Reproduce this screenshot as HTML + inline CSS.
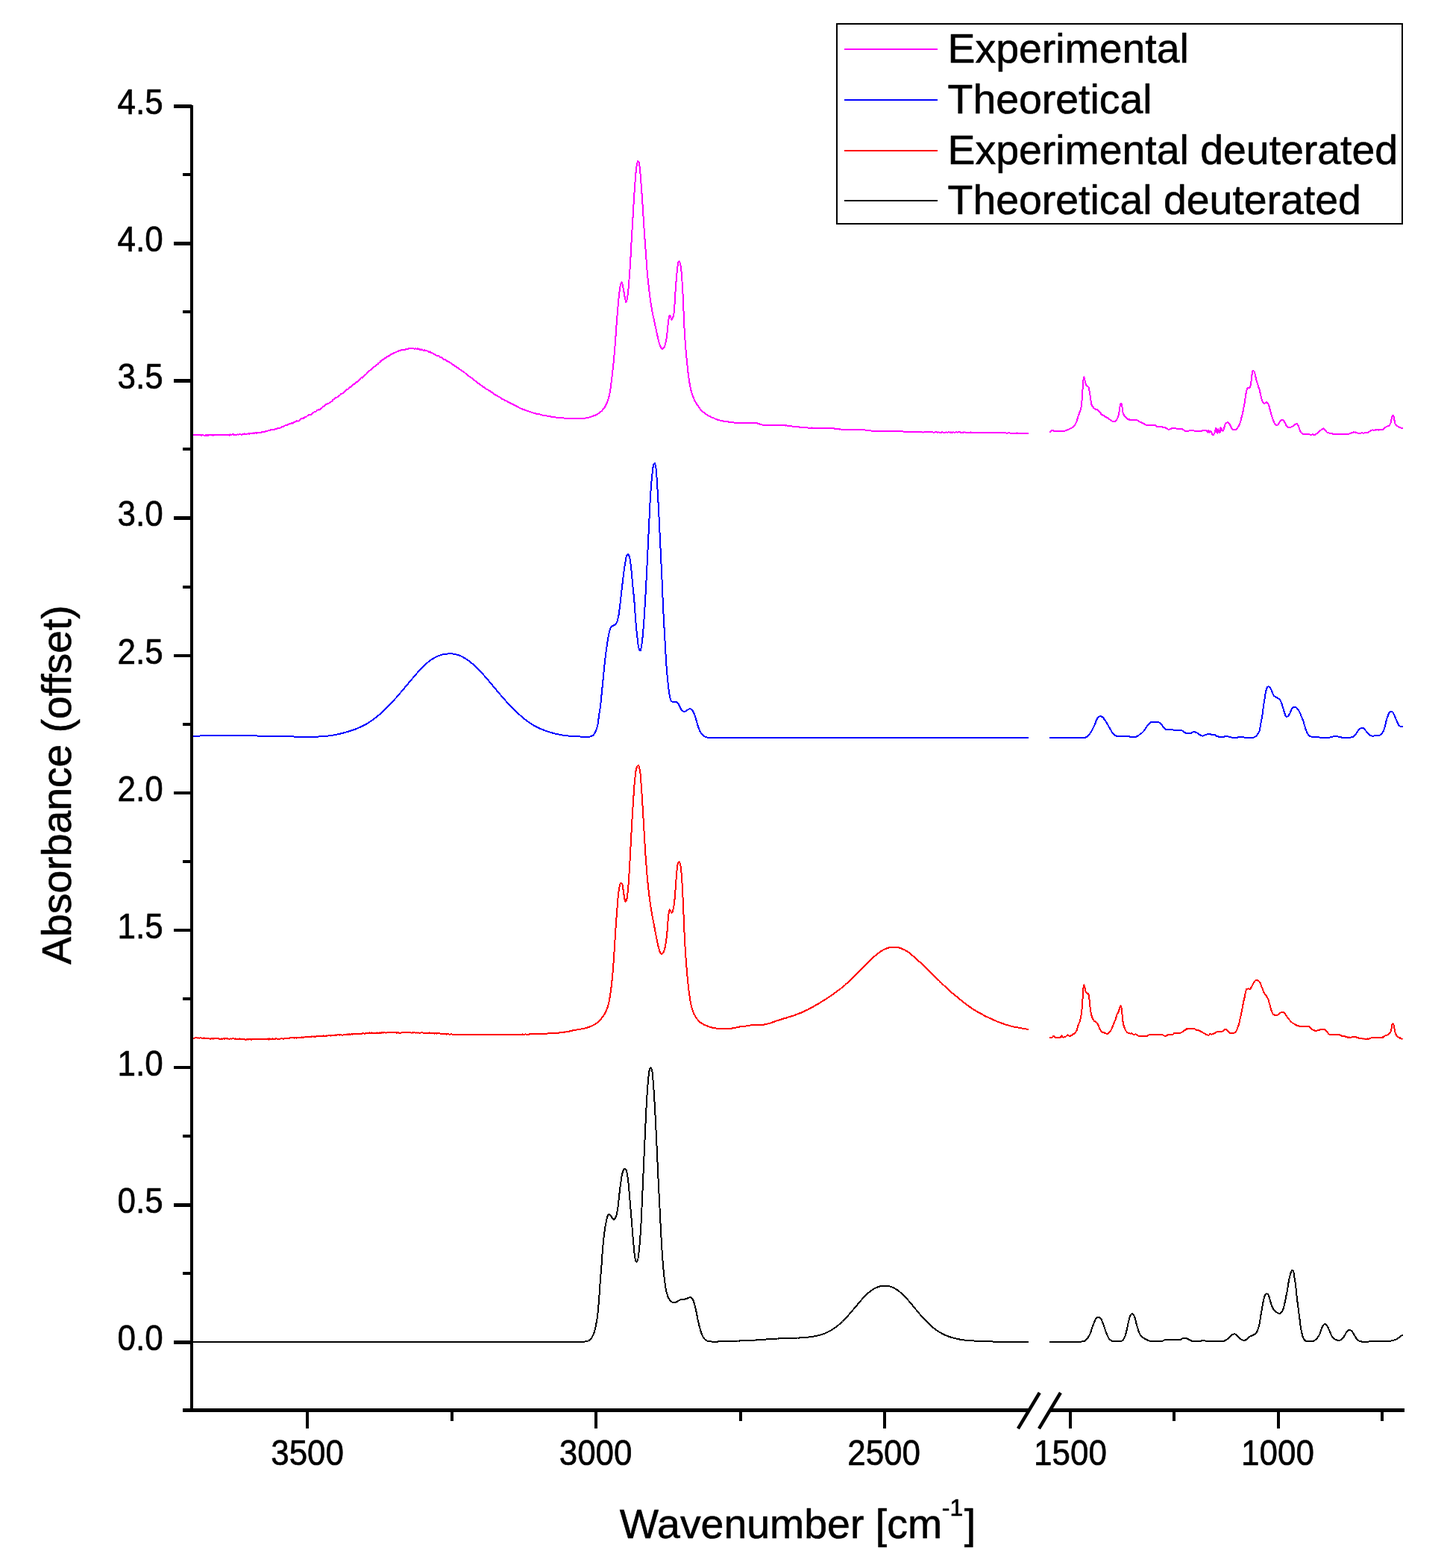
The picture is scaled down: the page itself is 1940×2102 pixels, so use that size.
<!DOCTYPE html>
<html lang="en"><head><meta charset="utf-8"><title>Absorbance spectra</title>
<style>html,body{margin:0;padding:0;background:#fff}body{width:1940px;height:2102px;overflow:hidden}</style></head>
<body>
<svg width="1940" height="2102" viewBox="0 0 1940 2102" role="img" aria-label="Offset absorbance spectra versus wavenumber" style="display:block">
<rect width="1940" height="2102" fill="#fff"/>
<polyline points="257.3,583.0 258.3,582.8 259.3,583.5 260.3,582.7 261.3,583.4 262.3,583.1 263.3,582.7 264.3,583.3 265.3,582.7 266.3,583.3 267.3,582.8 268.3,582.8 269.3,583.3 270.3,583.8 271.3,582.9 272.3,583.0 273.3,583.6 274.3,584.0 275.3,583.5 276.3,583.3 277.3,584.1 278.3,582.8 279.3,583.9 280.3,583.1 281.3,582.9 282.3,582.9 283.3,583.1 284.3,583.8 285.3,582.9 286.3,583.5 287.3,583.5 288.3,583.1 289.3,583.4 290.3,582.7 291.3,582.7 292.3,582.9 293.3,583.5 294.3,583.1 295.3,582.9 296.3,583.3 297.3,583.1 298.3,582.9 299.3,583.5 300.3,583.4 301.3,582.7 302.3,583.1 303.3,583.0 304.3,583.5 305.3,583.3 306.3,582.6 307.3,583.6 308.3,582.3 309.3,582.7 310.3,583.1 311.3,582.3 312.3,582.7 313.3,582.0 314.3,582.9 315.3,583.0 316.3,582.7 317.3,583.0 318.3,582.2 319.3,582.7 320.3,582.5 321.3,582.4 322.3,582.2 323.3,582.7 324.3,582.8 325.3,582.1 326.3,582.3 327.3,581.4 328.3,582.2 329.3,582.1 330.3,582.5 331.3,582.2 332.3,581.3 333.3,581.4 334.3,581.7 335.3,580.7 336.3,581.3 337.3,580.8 338.3,580.6 339.3,580.4 340.3,581.3 341.3,580.3 342.3,580.3 343.3,580.4 344.3,581.0 345.3,579.7 346.3,580.1 347.3,580.1 348.3,580.4 349.3,580.2 350.3,580.1 351.3,579.1 352.3,579.1 353.3,578.8 354.3,579.4 355.3,579.3 356.3,577.9 357.3,577.8 358.3,577.6 359.3,577.4 360.3,577.5 361.3,577.4 362.3,576.7 363.3,576.1 364.3,576.4 365.3,576.1 366.3,576.1 367.3,576.4 368.3,575.7 369.3,575.2 370.3,575.1 371.3,574.8 372.3,573.7 373.3,574.5 374.3,574.1 375.3,573.9 376.3,573.5 377.3,572.6 378.3,572.2 379.3,571.5 380.3,571.9 381.3,570.8 382.3,570.4 383.3,570.3 384.3,569.8 385.3,569.7 386.3,569.0 387.3,568.5 388.3,568.3 389.3,567.9 390.3,567.8 391.3,567.0 392.3,567.8 393.3,567.0 394.3,565.9 395.3,565.6 396.3,565.3 397.3,564.9 398.3,564.1 399.3,564.7 400.3,564.4 401.3,563.2 402.3,562.7 403.3,561.7 404.3,561.2 405.3,561.1 406.3,560.4 407.3,560.7 408.3,559.3 409.3,558.6 410.3,559.3 411.3,558.2 412.3,557.2 413.3,557.2 414.3,555.9 415.3,556.1 416.3,556.2 417.3,555.5 418.3,554.7 419.3,553.5 420.3,553.1 421.3,552.2 422.3,552.5 423.3,551.6 424.3,551.4 425.3,550.1 426.3,549.4 427.3,549.6 428.3,549.2 429.3,548.4 430.3,547.7 431.3,547.1 432.3,546.4 433.3,545.0 434.3,544.7 435.3,543.9 436.3,542.7 437.3,542.0 438.3,541.7 439.3,541.0 440.3,540.9 441.3,540.5 442.3,539.1 443.3,539.1 444.3,538.4 445.3,537.7 446.3,536.1 447.3,535.2 448.3,534.5 449.3,533.7 450.3,533.0 451.3,532.8 452.3,532.5 453.3,531.6 454.3,530.4 455.3,529.9 456.3,529.4 457.3,527.6 458.3,527.7 459.3,527.3 460.3,526.4 461.3,525.6 462.3,524.5 463.3,523.3 464.3,523.4 465.3,522.0 466.3,521.9 467.3,521.4 468.3,519.8 469.3,519.0 470.3,519.0 471.3,517.9 472.3,516.4 473.3,515.5 474.3,514.7 475.3,515.0 476.3,514.0 477.3,512.3 478.3,512.4 479.3,511.8 480.3,510.5 481.3,509.2 482.3,508.7 483.3,507.2 484.3,506.2 485.3,506.7 486.3,505.4 487.3,504.3 488.3,504.0 489.3,502.5 490.3,502.2 491.3,501.3 492.3,499.5 493.3,498.7 494.3,497.9 495.3,496.9 496.3,496.5 497.3,495.2 498.3,494.6 499.3,493.3 500.3,493.5 501.3,491.9 502.3,491.2 503.3,490.6 504.3,490.2 505.3,488.7 506.3,488.5 507.3,487.1 508.3,486.4 509.3,485.6 510.3,484.1 511.3,483.9 512.3,482.8 513.3,481.8 514.3,482.1 515.3,480.5 516.3,480.2 517.3,479.9 518.3,479.0 519.3,478.0 520.3,477.6 521.3,477.0 522.3,476.7 523.3,475.2 524.3,475.3 525.3,474.3 526.3,473.8 527.3,473.9 528.3,473.1 529.3,472.7 530.3,472.5 531.3,472.3 532.3,471.2 533.3,471.0 534.3,470.5 535.3,470.2 536.3,470.1 537.3,469.5 538.3,469.3 539.3,468.9 540.3,469.3 541.3,468.7 542.3,468.8 543.3,468.7 544.3,467.5 545.3,467.8 546.3,468.2 547.3,467.9 548.3,466.9 549.3,466.8 550.3,467.1 551.3,466.6 552.3,466.8 553.3,466.6 554.3,467.4 555.3,467.6 556.3,467.8 557.3,466.8 558.3,467.7 559.3,467.7 560.3,467.1 561.3,468.3 562.3,468.6 563.3,467.7 564.3,469.0 565.3,468.4 566.3,468.8 567.3,469.8 568.3,469.8 569.3,469.2 570.3,469.9 571.3,470.3 572.3,470.4 573.3,470.6 574.3,471.1 575.3,472.1 576.3,471.5 577.3,472.7 578.3,472.9 579.3,472.8 580.3,473.7 581.3,474.5 582.3,474.8 583.3,474.7 584.3,476.4 585.3,476.6 586.3,477.4 587.3,476.7 588.3,477.4 589.3,477.6 590.3,479.1 591.3,479.0 592.3,479.3 593.3,480.2 594.3,481.5 595.3,481.9 596.3,481.7 597.3,482.1 598.3,483.7 599.3,483.8 600.3,484.5 601.3,484.6 602.3,485.2 603.3,486.3 604.3,486.7 605.3,487.1 606.3,488.4 607.3,488.8 608.3,489.6 609.3,489.7 610.3,491.0 611.3,491.1 612.3,492.4 613.3,492.8 614.3,493.4 615.3,494.3 616.3,495.3 617.3,495.5 618.3,496.1 619.3,497.2 620.3,497.7 621.3,498.4 622.3,499.2 623.3,499.8 624.3,500.7 625.3,501.6 626.3,502.3 627.3,503.4 628.3,503.8 629.3,504.8 630.3,505.3 631.3,506.2 632.3,506.7 633.3,507.6 634.3,508.2 635.3,509.5 636.3,510.1 637.3,510.6 638.3,511.5 639.3,512.7 640.3,512.7 641.3,514.0 642.3,514.5 643.3,515.2 644.3,516.2 645.3,516.6 646.3,517.4 647.3,518.2 648.3,519.2 649.3,519.4 650.3,520.4 651.3,521.0 652.3,521.6 653.3,522.1 654.3,522.7 655.3,523.2 656.3,523.9 657.3,524.5 658.3,525.7 659.3,525.9 660.3,526.5 661.3,527.0 662.3,528.3 663.3,528.9 664.3,529.4 665.3,529.7 666.3,530.2 667.3,530.9 668.3,531.6 669.3,532.0 670.3,532.8 671.3,533.2 672.3,534.3 673.3,534.9 674.3,535.2 675.3,535.5 676.3,536.6 677.3,536.6 678.3,537.2 679.3,537.5 680.3,538.3 681.3,539.0 682.3,539.5 683.3,539.8 684.3,540.6 685.3,540.7 686.3,541.4 687.3,541.8 688.3,542.5 689.3,542.7 690.3,543.2 691.3,543.9 692.3,544.4 693.3,545.1 694.3,545.5 695.3,546.2 696.3,546.6 697.3,547.1 698.3,547.6 699.3,547.7 700.3,548.1 701.3,548.9 702.3,548.8 703.3,549.5 704.3,549.9 705.3,550.0 706.3,550.7 707.3,551.1 708.3,551.3 709.3,551.7 710.3,552.1 711.3,552.1 712.3,552.6 713.3,552.9 714.3,553.4 715.3,553.6 716.3,553.9 717.3,554.1 718.3,554.5 719.3,554.6 720.3,554.9 721.3,554.9 722.3,555.1 723.3,555.3 724.3,555.7 725.3,555.8 726.3,556.4 727.3,556.5 728.3,556.7 729.3,556.9 730.3,557.1 731.3,557.2 732.3,557.2 733.3,557.8 734.3,558.0 735.3,558.0 736.3,558.2 737.3,558.4 738.3,558.3 739.3,558.8 740.3,558.7 741.3,558.8 742.3,559.0 743.3,559.4 744.3,559.3 745.3,559.7 746.3,559.9 747.3,559.8 748.3,559.9 749.3,560.0 750.3,560.2 751.3,560.4 752.3,560.4 753.3,560.5 754.3,560.3 755.3,560.4 756.3,560.5 757.3,560.8 758.3,560.7 759.3,560.8 760.3,560.6 761.3,560.6 762.3,560.8 763.3,561.0 764.3,561.0 765.3,561.0 766.3,560.9 767.3,561.0 768.3,561.0 769.3,561.0 770.3,560.9 771.3,561.3 772.3,560.9 773.3,561.3 774.3,561.3 775.3,560.8 776.3,561.0 777.3,561.1 778.3,561.2 779.3,560.9 780.3,560.7 781.3,560.7 782.3,561.0 783.3,560.5 784.3,560.7 785.3,560.3 786.3,560.4 787.3,560.4 788.3,559.8 789.3,559.9 790.3,559.4 791.3,559.3 792.3,558.9 793.3,558.3 794.3,558.3 795.3,557.8 796.3,557.2 797.3,556.8 798.3,556.6 799.3,556.1 800.3,555.5 801.3,554.8 802.3,554.3 803.3,553.6 804.3,553.1 805.3,551.9 806.3,551.4 807.3,550.5 808.3,549.0 809.3,548.1 810.3,546.6 811.3,545.1 812.3,543.0 813.3,541.0 814.3,538.6 815.3,536.0 816.3,532.4 817.3,528.2 818.3,522.4 819.3,515.1 820.3,507.2 821.3,498.1 822.3,488.9 823.3,478.6 824.3,467.1 825.3,453.6 826.3,439.1 827.3,426.1 828.3,413.8 829.3,402.2 830.3,392.3 831.3,384.6 832.3,380.2 833.3,378.1 834.3,380.3 835.3,384.5 836.3,390.0 837.3,396.4 838.3,401.3 839.3,405.1 840.3,403.2 841.3,398.2 842.3,389.9 843.3,377.4 844.3,364.0 845.3,348.6 846.3,328.9 847.3,311.5 848.3,295.1 849.3,277.7 850.3,260.9 851.3,246.4 852.3,233.5 853.3,224.3 854.3,218.2 855.3,215.9 856.3,216.6 857.3,220.7 858.3,229.9 859.3,242.9 860.3,256.5 861.3,270.9 862.3,286.7 863.3,303.2 864.3,317.6 865.3,331.1 866.3,345.4 867.3,359.3 868.3,370.6 869.3,380.5 870.3,389.3 871.3,397.5 872.3,404.8 873.3,411.1 874.3,416.7 875.3,421.6 876.3,426.3 877.3,431.0 878.3,435.6 879.3,440.2 880.3,445.1 881.3,449.6 882.3,453.9 883.3,458.4 884.3,461.6 885.3,464.2 886.3,466.3 887.3,467.8 888.3,467.7 889.3,467.0 890.3,465.6 891.3,463.9 892.3,460.4 893.3,455.7 894.3,448.1 895.3,438.2 896.3,429.4 897.3,424.1 898.3,423.1 899.3,425.1 900.3,428.6 901.3,427.7 902.3,425.3 903.3,422.0 904.3,412.0 905.3,394.3 906.3,380.1 907.3,367.7 908.3,358.3 909.3,352.1 910.3,350.4 911.3,351.1 912.3,354.8 913.3,361.8 914.3,374.1 915.3,389.9 916.3,411.2 917.3,436.2 918.3,452.8 919.3,466.0 920.3,478.2 921.3,488.2 922.3,497.8 923.3,505.8 924.3,512.4 925.3,518.0 926.3,522.7 927.3,526.6 928.3,529.8 929.3,532.2 930.3,534.6 931.3,536.9 932.3,538.8 933.3,540.4 934.3,541.9 935.3,543.6 936.3,544.8 937.3,546.3 938.3,547.7 939.3,549.2 940.3,550.2 941.3,551.3 942.3,552.0 943.3,552.7 944.3,553.5 945.3,554.6 946.3,555.2 947.3,555.6 948.3,556.1 949.3,557.0 950.3,557.6 951.3,558.0 952.3,558.5 953.3,559.2 954.3,559.8 955.3,559.9 956.3,560.2 957.3,560.8 958.3,561.2 959.3,561.7 960.3,561.8 961.3,562.5 962.3,562.7 963.3,562.9 964.3,563.1 965.3,563.7 966.3,563.7 967.3,564.2 968.3,564.1 969.3,564.3 970.3,564.8 971.3,564.7 972.3,565.2 973.3,565.1 974.3,565.1 975.3,565.2 976.3,565.4 977.3,565.7 978.3,565.9 979.3,565.6 980.3,565.9 981.3,565.9 982.3,566.5 983.3,566.2 984.3,566.5 985.3,566.6 986.3,566.8 987.3,567.1 988.3,567.1 989.3,567.0 990.3,567.1 991.3,567.1 992.3,566.8 993.3,566.8 994.3,567.1 995.3,567.1 996.3,566.7 997.3,567.0 998.3,566.9 999.3,566.9 1000.3,566.9 1001.3,566.8 1002.3,566.7 1003.3,566.8 1004.3,566.9 1005.3,567.2 1006.3,566.8 1007.3,567.2 1008.3,566.8 1009.3,566.9 1010.3,567.2 1011.3,567.2 1012.3,567.0 1013.3,566.9 1014.3,567.3 1015.3,567.4 1016.3,568.0 1017.3,567.9 1018.3,568.3 1019.3,568.9 1020.3,568.7 1021.3,569.2 1022.3,569.6 1023.3,569.8 1024.3,569.5 1025.3,569.6 1026.3,569.6 1027.3,570.1 1028.3,569.8 1029.3,570.0 1030.3,570.1 1031.3,569.9 1032.3,569.9 1033.3,570.2 1034.3,570.1 1035.3,569.9 1036.3,570.1 1037.3,569.9 1038.3,569.9 1039.3,569.8 1040.3,570.2 1041.3,570.3 1042.3,570.2 1043.3,570.3 1044.3,569.9 1045.3,570.0 1046.3,570.1 1047.3,570.4 1048.3,570.4 1049.3,570.1 1050.3,570.1 1051.3,570.2 1052.3,570.3 1053.3,570.6 1054.3,570.3 1055.3,570.7 1056.3,570.8 1057.3,571.0 1058.3,571.1 1059.3,571.1 1060.3,571.1 1061.3,571.3 1062.3,571.5 1063.3,571.8 1064.3,571.6 1065.3,571.7 1066.3,572.1 1067.3,572.0 1068.3,572.0 1069.3,572.1 1070.3,572.4 1071.3,572.4 1072.3,572.9 1073.3,572.9 1074.3,573.1 1075.3,572.8 1076.3,572.8 1077.3,572.9 1078.3,573.2 1079.3,573.4 1080.3,573.3 1081.3,573.3 1082.3,573.4 1083.3,573.5 1084.3,573.6 1085.3,573.7 1086.3,573.7 1087.3,573.7 1088.3,573.4 1089.3,573.8 1090.3,573.6 1091.3,573.7 1092.3,573.6 1093.3,573.8 1094.3,573.6 1095.3,573.6 1096.3,573.6 1097.3,573.6 1098.3,573.9 1099.3,573.8 1100.3,573.7 1101.3,573.7 1102.3,574.0 1103.3,573.8 1104.3,573.7 1105.3,574.0 1106.3,573.9 1107.3,574.1 1108.3,573.7 1109.3,573.9 1110.3,574.1 1111.3,574.1 1112.3,574.2 1113.3,573.8 1114.3,573.9 1115.3,573.9 1116.3,574.0 1117.3,574.5 1118.3,574.4 1119.3,574.7 1120.3,574.6 1121.3,575.0 1122.3,575.0 1123.3,575.0 1124.3,575.4 1125.3,575.6 1126.3,575.3 1127.3,575.7 1128.3,575.8 1129.3,575.6 1130.3,575.7 1131.3,575.6 1132.3,575.7 1133.3,575.8 1134.3,575.9 1135.3,576.0 1136.3,575.8 1137.3,575.7 1138.3,575.9 1139.3,576.1 1140.3,575.8 1141.3,575.9 1142.3,575.9 1143.3,576.2 1144.3,576.1 1145.3,575.8 1146.3,575.9 1147.3,576.0 1148.3,576.1 1149.3,576.2 1150.3,575.9 1151.3,576.0 1152.3,576.2 1153.3,576.1 1154.3,576.1 1155.3,576.1 1156.3,576.5 1157.3,576.2 1158.3,576.4 1159.3,576.4 1160.3,576.5 1161.3,576.8 1162.3,577.0 1163.3,576.9 1164.3,576.9 1165.3,577.3 1166.3,577.2 1167.3,577.2 1168.3,577.7 1169.3,577.6 1170.3,577.9 1171.3,577.7 1172.3,578.0 1173.3,577.8 1174.3,577.7 1175.3,577.6 1176.3,577.9 1177.3,577.9 1178.3,578.1 1179.3,577.7 1180.3,578.0 1181.3,577.9 1182.3,577.9 1183.3,577.8 1184.3,577.8 1185.3,578.0 1186.3,578.2 1187.3,577.8 1188.3,578.0 1189.3,578.1 1190.3,578.2 1191.3,577.8 1192.3,577.8 1193.3,578.2 1194.3,578.2 1195.3,578.0 1196.3,577.8 1197.3,578.2 1198.3,578.0 1199.3,578.3 1200.3,578.1 1201.3,578.2 1202.3,577.9 1203.3,578.3 1204.3,578.0 1205.3,578.1 1206.3,578.4 1207.3,578.4 1208.3,578.1 1209.3,578.1 1210.3,578.4 1211.3,578.6 1212.3,578.8 1213.3,578.8 1214.3,578.9 1215.3,579.1 1216.3,579.2 1217.3,578.8 1218.3,579.1 1219.3,579.2 1220.3,578.9 1221.3,579.3 1222.3,579.0 1223.3,579.2 1224.3,579.2 1225.3,579.3 1226.3,579.1 1227.3,579.2 1228.3,579.3 1229.3,579.2 1230.3,579.3 1231.3,579.2 1232.3,579.2 1233.3,579.1 1234.3,579.4 1235.3,579.3 1236.3,579.2 1237.3,579.5 1238.3,579.5 1239.3,579.3 1240.3,579.2 1241.3,579.4 1242.3,579.2 1243.3,579.2 1244.3,579.4 1245.3,579.2 1246.3,579.4 1247.3,579.4 1248.3,579.2 1249.3,579.5 1250.3,579.2 1251.3,579.5 1252.3,579.6 1253.3,579.4 1254.3,579.2 1255.3,579.5 1256.3,579.4 1257.3,579.7 1258.3,579.3 1259.3,579.6 1260.3,579.7 1261.3,579.6 1262.3,579.6 1263.3,579.3 1264.3,579.7 1265.3,579.5 1266.3,579.7 1267.3,579.7 1268.3,579.3 1269.3,579.7 1270.3,579.7 1271.3,579.3 1272.3,579.4 1273.3,579.6 1274.3,579.4 1275.3,579.7 1276.3,579.4 1277.3,579.7 1278.3,579.4 1279.3,579.5 1280.3,579.8 1281.3,579.4 1282.3,579.4 1283.3,579.6 1284.3,579.5 1285.3,579.3 1286.3,579.4 1287.3,579.4 1288.3,579.8 1289.3,579.7 1290.3,579.8 1291.3,579.4 1292.3,579.7 1293.3,579.4 1294.3,579.6 1295.3,579.7 1296.3,579.5 1297.3,579.8 1298.3,579.7 1299.3,579.7 1300.3,579.8 1301.3,579.4 1302.3,579.9 1303.3,579.7 1304.3,579.6 1305.3,579.8 1306.3,579.6 1307.3,579.9 1308.3,579.7 1309.3,579.6 1310.3,579.8 1311.3,579.7 1312.3,579.6 1313.3,579.9 1314.3,579.5 1315.3,579.9 1316.3,579.7 1317.3,579.9 1318.3,580.0 1319.3,579.9 1320.3,579.9 1321.3,579.8 1322.3,579.6 1323.3,579.6 1324.3,579.7 1325.3,580.0 1326.3,579.9 1327.3,580.0 1328.3,580.2 1329.3,579.8 1330.3,579.9 1331.3,580.1 1332.3,579.8 1333.3,579.8 1334.3,580.0 1335.3,579.9 1336.3,580.1 1337.3,580.0 1338.3,580.2 1339.3,580.2 1340.3,580.1 1341.3,580.3 1342.3,580.2 1343.3,580.1 1344.3,580.5 1345.3,580.2 1346.3,580.2 1347.3,580.2 1348.3,580.4 1349.3,580.6 1350.3,580.6 1351.3,580.4 1352.3,580.3 1353.3,580.2 1354.3,580.6 1355.3,580.5 1356.3,580.5 1357.3,580.6 1358.3,580.5 1359.3,580.8 1360.3,580.7 1361.3,580.5 1362.3,580.8 1363.3,580.4 1364.3,580.7 1365.3,580.6 1366.3,580.5 1367.3,580.5 1368.3,580.8 1369.3,580.5 1370.3,580.7 1371.3,580.9 1372.3,580.5 1373.3,580.6 1374.3,580.8 1375.3,580.7 1376.3,580.8 1377.3,580.9 1378.3,580.6 1379.0,580.6" fill="none" stroke="#ff00ff" stroke-width="2" stroke-linejoin="round" shape-rendering="crispEdges"/>
<polyline points="1407.4,579.4 1408.4,578.5 1409.4,577.4 1410.4,577.5 1411.4,576.9 1412.4,577.0 1413.4,578.0 1414.4,577.8 1415.4,578.1 1416.4,577.9 1417.4,577.9 1418.4,577.9 1419.4,577.7 1420.4,578.2 1421.4,577.6 1422.4,577.7 1423.4,577.6 1424.4,577.7 1425.4,577.8 1426.4,578.1 1427.4,577.7 1428.4,577.3 1429.4,577.1 1430.4,577.1 1431.4,576.0 1432.4,575.9 1433.4,575.3 1434.4,575.0 1435.4,574.2 1436.4,573.9 1437.4,573.1 1438.4,572.5 1439.4,571.9 1440.4,570.7 1441.4,569.2 1442.4,567.5 1443.4,565.3 1444.4,561.8 1445.4,558.1 1446.4,555.7 1447.4,552.9 1448.4,550.1 1449.4,546.6 1450.4,538.8 1451.4,523.1 1452.4,510.0 1453.4,505.5 1454.4,509.6 1455.4,513.5 1456.4,516.2 1457.4,517.4 1458.4,518.1 1459.4,518.6 1460.4,523.1 1461.4,529.7 1462.4,536.6 1463.4,542.1 1464.4,544.3 1465.4,545.4 1466.4,547.1 1467.4,547.6 1468.4,548.5 1469.4,548.7 1470.4,549.2 1471.4,549.5 1472.4,550.4 1473.4,551.1 1474.4,552.3 1475.4,553.6 1476.4,555.1 1477.4,556.0 1478.4,556.2 1479.4,557.0 1480.4,557.4 1481.4,558.3 1482.4,559.0 1483.4,559.1 1484.4,560.1 1485.4,560.5 1486.4,561.0 1487.4,562.3 1488.4,562.7 1489.4,563.2 1490.4,564.1 1491.4,564.6 1492.4,565.0 1493.4,565.0 1494.4,564.9 1495.4,564.7 1496.4,563.7 1497.4,562.1 1498.4,560.3 1499.4,557.6 1500.4,553.1 1501.4,545.5 1502.4,541.8 1503.4,541.1 1504.4,545.4 1505.4,552.4 1506.4,555.3 1507.4,557.2 1508.4,558.6 1509.4,559.8 1510.4,560.8 1511.4,561.7 1512.4,561.9 1513.4,562.6 1514.4,562.2 1515.4,563.0 1516.4,562.7 1517.4,563.2 1518.4,562.6 1519.4,563.3 1520.4,563.1 1521.4,563.3 1522.4,563.0 1523.4,562.7 1524.4,563.4 1525.4,563.7 1526.4,564.3 1527.4,565.3 1528.4,565.8 1529.4,566.2 1530.4,566.5 1531.4,566.9 1532.4,567.7 1533.4,568.0 1534.4,568.3 1535.4,569.1 1536.4,569.7 1537.4,569.9 1538.4,569.8 1539.4,569.8 1540.4,569.8 1541.4,569.7 1542.4,569.7 1543.4,569.9 1544.4,569.6 1545.4,570.1 1546.4,570.1 1547.4,570.0 1548.4,569.7 1549.4,570.8 1550.4,571.7 1551.4,571.6 1552.4,572.3 1553.4,572.2 1554.4,572.1 1555.4,572.3 1556.4,572.0 1557.4,572.2 1558.4,572.5 1559.4,572.9 1560.4,573.0 1561.4,572.8 1562.4,573.5 1563.4,574.1 1564.4,574.5 1565.4,575.3 1566.4,575.8 1567.4,575.6 1568.4,575.5 1569.4,575.1 1570.4,574.7 1571.4,573.8 1572.4,574.2 1573.4,574.1 1574.4,573.9 1575.4,574.0 1576.4,574.3 1577.4,574.7 1578.4,574.7 1579.4,575.1 1580.4,574.7 1581.4,574.8 1582.4,575.3 1583.4,575.2 1584.4,575.1 1585.4,575.5 1586.4,576.2 1587.4,576.9 1588.4,577.5 1589.4,578.1 1590.4,578.0 1591.4,578.0 1592.4,577.9 1593.4,577.7 1594.4,577.3 1595.4,576.9 1596.4,576.9 1597.4,577.1 1598.4,576.7 1599.4,576.6 1600.4,577.4 1601.4,577.6 1602.4,577.8 1603.4,577.6 1604.4,578.0 1605.4,577.7 1606.4,577.7 1607.4,578.0 1608.4,577.8 1609.4,577.7 1610.4,578.1 1611.4,577.5 1612.4,577.1 1613.4,577.2 1614.4,577.1 1615.4,577.0 1616.4,576.7 1617.4,577.1 1618.4,578.2 1619.4,579.5 1620.4,576.8 1621.4,579.7 1622.4,579.4 1623.4,577.6 1624.4,579.9 1625.4,582.1 1626.4,583.3 1627.4,582.4 1628.4,580.2 1629.4,576.5 1630.4,573.7 1631.4,579.5 1632.4,580.9 1633.4,575.5 1634.4,578.4 1635.4,580.5 1636.4,572.9 1637.4,573.9 1638.4,577.2 1639.4,577.8 1640.4,576.4 1641.4,573.0 1642.4,569.4 1643.4,567.7 1644.4,566.8 1645.4,566.2 1646.4,566.0 1647.4,567.0 1648.4,568.1 1649.4,570.3 1650.4,572.5 1651.4,574.2 1652.4,575.2 1653.4,576.0 1654.4,576.4 1655.4,576.5 1656.4,575.9 1657.4,575.6 1658.4,574.6 1659.4,573.2 1660.4,571.6 1661.4,569.7 1662.4,567.2 1663.4,564.3 1664.4,560.0 1665.4,556.1 1666.4,552.0 1667.4,547.0 1668.4,541.7 1669.4,534.5 1670.4,528.1 1671.4,523.1 1672.4,520.2 1673.4,520.1 1674.4,519.8 1675.4,519.5 1676.4,518.0 1677.4,511.8 1678.4,503.2 1679.4,497.5 1680.4,496.9 1681.4,498.0 1682.4,500.3 1683.4,505.1 1684.4,509.5 1685.4,512.8 1686.4,515.7 1687.4,519.3 1688.4,521.9 1689.4,526.0 1690.4,530.3 1691.4,534.4 1692.4,537.6 1693.4,540.0 1694.4,540.4 1695.4,540.9 1696.4,540.4 1697.4,539.4 1698.4,539.4 1699.4,539.9 1700.4,541.5 1701.4,544.2 1702.4,548.0 1703.4,551.7 1704.4,555.7 1705.4,558.8 1706.4,561.5 1707.4,564.5 1708.4,566.5 1709.4,568.8 1710.4,569.5 1711.4,570.0 1712.4,569.7 1713.4,569.4 1714.4,567.9 1715.4,566.3 1716.4,564.5 1717.4,563.6 1718.4,563.0 1719.4,563.0 1720.4,563.0 1721.4,564.4 1722.4,566.2 1723.4,567.7 1724.4,570.1 1725.4,571.5 1726.4,572.1 1727.4,573.3 1728.4,573.2 1729.4,573.1 1730.4,573.0 1731.4,572.1 1732.4,572.1 1733.4,571.1 1734.4,570.6 1735.4,570.1 1736.4,568.9 1737.4,568.8 1738.4,567.8 1739.4,568.8 1740.4,570.3 1741.4,572.8 1742.4,575.8 1743.4,578.4 1744.4,579.8 1745.4,580.9 1746.4,581.4 1747.4,581.9 1748.4,582.2 1749.4,582.2 1750.4,582.2 1751.4,582.5 1752.4,582.2 1753.4,582.4 1754.4,582.0 1755.4,582.1 1756.4,582.7 1757.4,583.0 1758.4,582.6 1759.4,582.3 1760.4,582.5 1761.4,582.5 1762.4,582.5 1763.4,582.6 1764.4,581.9 1765.4,581.4 1766.4,580.6 1767.4,579.8 1768.4,578.9 1769.4,577.8 1770.4,576.7 1771.4,576.3 1772.4,575.1 1773.4,574.9 1774.4,574.4 1775.4,575.1 1776.4,576.0 1777.4,577.4 1778.4,578.8 1779.4,579.9 1780.4,580.3 1781.4,580.3 1782.4,580.6 1783.4,580.6 1784.4,580.9 1785.4,581.0 1786.4,581.4 1787.4,581.8 1788.4,581.6 1789.4,581.7 1790.4,582.3 1791.4,581.8 1792.4,582.3 1793.4,582.4 1794.4,582.0 1795.4,582.3 1796.4,582.1 1797.4,582.5 1798.4,582.1 1799.4,582.0 1800.4,581.9 1801.4,582.4 1802.4,582.0 1803.4,582.1 1804.4,582.5 1805.4,582.3 1806.4,582.3 1807.4,582.1 1808.4,582.1 1809.4,581.3 1810.4,581.3 1811.4,580.3 1812.4,580.3 1813.4,579.6 1814.4,579.7 1815.4,579.0 1816.4,579.7 1817.4,579.3 1818.4,579.9 1819.4,580.1 1820.4,580.7 1821.4,580.7 1822.4,581.0 1823.4,580.9 1824.4,580.6 1825.4,580.4 1826.4,580.3 1827.4,580.6 1828.4,580.7 1829.4,580.4 1830.4,580.1 1831.4,580.2 1832.4,580.1 1833.4,579.7 1834.4,579.7 1835.4,578.9 1836.4,578.1 1837.4,577.5 1838.4,577.2 1839.4,576.9 1840.4,576.4 1841.4,576.5 1842.4,576.6 1843.4,576.3 1844.4,576.5 1845.4,576.5 1846.4,576.3 1847.4,576.2 1848.4,576.5 1849.4,576.5 1850.4,576.1 1851.4,576.5 1852.4,576.3 1853.4,576.1 1854.4,575.4 1855.4,574.4 1856.4,573.7 1857.4,572.6 1858.4,572.4 1859.4,571.6 1860.4,571.4 1861.4,571.1 1862.4,570.6 1863.4,569.1 1864.4,567.3 1865.4,562.5 1866.4,558.4 1867.4,556.7 1868.4,557.9 1869.4,563.1 1870.4,567.7 1871.4,569.7 1872.4,570.7 1873.4,571.1 1874.4,571.8 1875.4,572.3 1876.4,573.1 1877.4,573.4 1878.4,573.6 1879.4,574.3 1880.4,574.5 1880.5,574.3" fill="none" stroke="#ff00ff" stroke-width="2" stroke-linejoin="round" shape-rendering="crispEdges"/>
<polyline points="257.6,986.9 258.6,986.8 259.6,986.8 260.6,986.8 261.6,986.7 262.6,986.7 263.6,986.6 264.6,986.6 265.6,986.5 266.6,986.5 267.6,986.5 268.6,986.4 269.6,986.4 270.6,986.3 271.6,986.3 272.6,986.3 273.6,986.2 274.6,986.2 275.6,986.2 276.6,986.1 277.6,986.1 278.6,986.1 279.6,986.1 280.6,986.1 281.6,986.1 282.6,986.1 283.6,986.1 284.6,986.1 285.6,986.1 286.6,986.1 287.6,986.1 288.6,986.1 289.6,986.1 290.6,986.1 291.6,986.1 292.6,986.1 293.6,986.1 294.6,986.1 295.6,986.1 296.6,986.1 297.6,986.1 298.6,986.1 299.6,986.1 300.6,986.1 301.6,986.1 302.6,986.1 303.6,986.1 304.6,986.1 305.6,986.1 306.6,986.1 307.6,986.1 308.6,986.1 309.6,986.1 310.6,986.1 311.6,986.1 312.6,986.1 313.6,986.1 314.6,986.1 315.6,986.1 316.6,986.1 317.6,986.1 318.6,986.1 319.6,986.1 320.6,986.1 321.6,986.1 322.6,986.1 323.6,986.1 324.6,986.1 325.6,986.1 326.6,986.1 327.6,986.1 328.6,986.1 329.6,986.1 330.6,986.1 331.6,986.1 332.6,986.2 333.6,986.2 334.6,986.2 335.6,986.2 336.6,986.2 337.6,986.3 338.6,986.3 339.6,986.3 340.6,986.3 341.6,986.4 342.6,986.4 343.6,986.4 344.6,986.5 345.6,986.5 346.6,986.5 347.6,986.6 348.6,986.6 349.6,986.7 350.6,986.7 351.6,986.7 352.6,986.8 353.6,986.8 354.6,986.8 355.6,986.9 356.6,986.9 357.6,986.9 358.6,987.0 359.6,987.0 360.6,987.0 361.6,987.1 362.6,987.1 363.6,987.1 364.6,987.1 365.6,987.2 366.6,987.2 367.6,987.2 368.6,987.2 369.6,987.2 370.6,987.2 371.6,987.3 372.6,987.3 373.6,987.3 374.6,987.3 375.6,987.3 376.6,987.3 377.6,987.3 378.6,987.3 379.6,987.3 380.6,987.4 381.6,987.4 382.6,987.4 383.6,987.4 384.6,987.4 385.6,987.4 386.6,987.4 387.6,987.4 388.6,987.4 389.6,987.4 390.6,987.4 391.6,987.4 392.6,987.4 393.6,987.5 394.6,987.5 395.6,987.5 396.6,987.5 397.6,987.5 398.6,987.5 399.6,987.5 400.6,987.5 401.6,987.5 402.6,987.5 403.6,987.5 404.6,987.5 405.6,987.5 406.6,987.5 407.6,987.5 408.6,987.5 409.6,987.5 410.6,987.5 411.6,987.5 412.6,987.6 413.6,987.6 414.6,987.6 415.6,987.6 416.6,987.6 417.6,987.6 418.6,987.6 419.6,987.6 420.6,987.6 421.6,987.6 422.6,987.5 423.6,987.5 424.6,987.5 425.6,987.5 426.6,987.5 427.6,987.4 428.6,987.4 429.6,987.4 430.6,987.3 431.6,987.3 432.6,987.2 433.6,987.1 434.6,987.0 435.6,986.9 436.6,986.8 437.6,986.7 438.6,986.6 439.6,986.5 440.6,986.4 441.6,986.3 442.6,986.2 443.6,986.0 444.6,985.9 445.6,985.7 446.6,985.6 447.6,985.4 448.6,985.2 449.6,985.0 450.6,984.8 451.6,984.6 452.6,984.4 453.6,984.2 454.6,984.0 455.6,983.7 456.6,983.5 457.6,983.2 458.6,983.0 459.6,982.7 460.6,982.5 461.6,982.2 462.6,981.9 463.6,981.7 464.6,981.4 465.6,981.1 466.6,980.8 467.6,980.5 468.6,980.2 469.6,979.9 470.6,979.5 471.6,979.2 472.6,978.9 473.6,978.5 474.6,978.2 475.6,977.8 476.6,977.4 477.6,977.0 478.6,976.6 479.6,976.2 480.6,975.8 481.6,975.3 482.6,974.9 483.6,974.4 484.6,974.0 485.6,973.5 486.6,973.0 487.6,972.5 488.6,972.0 489.6,971.4 490.6,970.9 491.6,970.3 492.6,969.7 493.6,969.1 494.6,968.5 495.6,967.8 496.6,967.2 497.6,966.5 498.6,965.8 499.6,965.1 500.6,964.4 501.6,963.7 502.6,962.9 503.6,962.1 504.6,961.3 505.6,960.5 506.6,959.7 507.6,958.9 508.6,958.0 509.6,957.2 510.6,956.3 511.6,955.4 512.6,954.5 513.6,953.5 514.6,952.6 515.6,951.6 516.6,950.7 517.6,949.7 518.6,948.7 519.6,947.7 520.6,946.7 521.6,945.6 522.6,944.6 523.6,943.5 524.6,942.5 525.6,941.4 526.6,940.3 527.6,939.2 528.6,938.1 529.6,937.0 530.6,935.9 531.6,934.8 532.6,933.6 533.6,932.5 534.6,931.3 535.6,930.2 536.6,929.0 537.6,927.9 538.6,926.7 539.6,925.5 540.6,924.3 541.6,923.1 542.6,921.9 543.6,920.7 544.6,919.5 545.6,918.3 546.6,917.1 547.6,915.9 548.6,914.7 549.6,913.5 550.6,912.3 551.6,911.2 552.6,910.0 553.6,908.8 554.6,907.6 555.6,906.4 556.6,905.3 557.6,904.1 558.6,902.9 559.6,901.8 560.6,900.7 561.6,899.6 562.6,898.5 563.6,897.4 564.6,896.3 565.6,895.3 566.6,894.3 567.6,893.3 568.6,892.4 569.6,891.4 570.6,890.5 571.6,889.6 572.6,888.8 573.6,887.9 574.6,887.1 575.6,886.3 576.6,885.6 577.6,884.9 578.6,884.2 579.6,883.5 580.6,882.9 581.6,882.3 582.6,881.7 583.6,881.2 584.6,880.7 585.6,880.2 586.6,879.7 587.6,879.3 588.6,878.9 589.6,878.6 590.6,878.2 591.6,877.9 592.6,877.6 593.6,877.4 594.6,877.2 595.6,877.0 596.6,876.8 597.6,876.7 598.6,876.6 599.6,876.5 600.6,876.4 601.6,876.4 602.6,876.4 603.6,876.4 604.6,876.4 605.6,876.4 606.6,876.5 607.6,876.6 608.6,876.8 609.6,876.9 610.6,877.1 611.6,877.3 612.6,877.6 613.6,877.9 614.6,878.2 615.6,878.6 616.6,879.0 617.6,879.4 618.6,879.9 619.6,880.4 620.6,880.9 621.6,881.5 622.6,882.0 623.6,882.6 624.6,883.3 625.6,883.9 626.6,884.6 627.6,885.3 628.6,886.0 629.6,886.8 630.6,887.6 631.6,888.4 632.6,889.2 633.6,890.0 634.6,890.9 635.6,891.8 636.6,892.7 637.6,893.6 638.6,894.6 639.6,895.5 640.6,896.5 641.6,897.5 642.6,898.5 643.6,899.6 644.6,900.6 645.6,901.7 646.6,902.8 647.6,903.9 648.6,905.0 649.6,906.1 650.6,907.3 651.6,908.4 652.6,909.6 653.6,910.7 654.6,911.9 655.6,913.1 656.6,914.3 657.6,915.5 658.6,916.7 659.6,917.9 660.6,919.1 661.6,920.3 662.6,921.5 663.6,922.7 664.6,923.9 665.6,925.1 666.6,926.3 667.6,927.5 668.6,928.7 669.6,929.9 670.6,931.1 671.6,932.2 672.6,933.4 673.6,934.6 674.6,935.7 675.6,936.8 676.6,937.9 677.6,939.1 678.6,940.2 679.6,941.2 680.6,942.3 681.6,943.4 682.6,944.4 683.6,945.5 684.6,946.5 685.6,947.6 686.6,948.6 687.6,949.6 688.6,950.6 689.6,951.6 690.6,952.6 691.6,953.5 692.6,954.5 693.6,955.4 694.6,956.4 695.6,957.3 696.6,958.2 697.6,959.1 698.6,960.0 699.6,960.9 700.6,961.7 701.6,962.6 702.6,963.4 703.6,964.2 704.6,964.9 705.6,965.7 706.6,966.5 707.6,967.2 708.6,967.9 709.6,968.6 710.6,969.3 711.6,969.9 712.6,970.6 713.6,971.2 714.6,971.8 715.6,972.4 716.6,973.0 717.6,973.5 718.6,974.0 719.6,974.6 720.6,975.1 721.6,975.6 722.6,976.0 723.6,976.5 724.6,976.9 725.6,977.4 726.6,977.8 727.6,978.2 728.6,978.6 729.6,979.0 730.6,979.3 731.6,979.7 732.6,980.0 733.6,980.4 734.6,980.7 735.6,981.0 736.6,981.4 737.6,981.7 738.6,982.0 739.6,982.2 740.6,982.5 741.6,982.8 742.6,983.1 743.6,983.3 744.6,983.6 745.6,983.8 746.6,984.0 747.6,984.3 748.6,984.5 749.6,984.7 750.6,984.9 751.6,985.1 752.6,985.2 753.6,985.4 754.6,985.6 755.6,985.7 756.6,985.9 757.6,986.0 758.6,986.2 759.6,986.3 760.6,986.4 761.6,986.5 762.6,986.6 763.6,986.7 764.6,986.8 765.6,986.9 766.6,987.0 767.6,987.0 768.6,987.1 769.6,987.2 770.6,987.2 771.6,987.2 772.6,987.3 773.6,987.3 774.6,987.4 775.6,987.4 776.6,987.4 777.6,987.5 778.6,987.5 779.6,987.5 780.6,987.6 781.6,987.6 782.6,987.7 783.6,987.7 784.6,987.7 785.6,987.7 786.6,987.7 787.6,987.7 788.6,987.7 789.6,987.7 790.6,987.6 791.6,987.3 792.6,987.0 793.6,986.5 794.6,986.0 795.6,985.2 796.6,983.9 797.6,982.2 798.6,980.3 799.6,978.0 800.6,974.9 801.6,970.4 802.6,962.9 803.6,955.7 804.6,949.0 805.6,940.9 806.6,930.6 807.6,920.5 808.6,910.5 809.6,900.4 810.6,890.3 811.6,881.4 812.6,873.6 813.6,866.0 814.6,858.9 815.6,853.1 816.6,848.2 817.6,844.5 818.6,841.7 819.6,840.0 820.6,839.3 821.6,838.9 822.6,838.5 823.6,838.0 824.6,837.3 825.6,836.4 826.6,835.1 827.6,832.6 828.6,829.0 829.6,824.1 830.6,816.6 831.6,808.3 832.6,799.1 833.6,790.2 834.6,781.8 835.6,773.7 836.6,765.7 837.6,758.3 838.6,752.1 839.6,746.8 840.6,744.4 841.6,743.1 842.6,743.3 843.6,745.6 844.6,749.4 845.6,756.6 846.6,765.5 847.6,776.9 848.6,787.8 849.6,797.3 850.6,808.5 851.6,823.2 852.6,836.3 853.6,846.7 854.6,855.7 855.6,864.4 856.6,869.8 857.6,872.4 858.6,872.2 859.6,868.8 860.6,862.8 861.6,853.6 862.6,842.4 863.6,828.5 864.6,812.9 865.6,795.3 866.6,776.4 867.6,756.0 868.6,735.2 869.6,714.0 870.6,693.0 871.6,672.6 872.6,656.6 873.6,643.7 874.6,633.8 875.6,625.8 876.6,622.2 877.6,620.9 878.6,623.1 879.6,628.6 880.6,641.6 881.6,657.0 882.6,675.0 883.6,694.5 884.6,715.6 885.6,736.9 886.6,757.6 887.6,779.2 888.6,803.0 889.6,824.8 890.6,843.1 891.6,860.4 892.6,878.4 893.6,894.0 894.6,905.8 895.6,915.7 896.6,924.8 897.6,931.7 898.6,936.2 899.6,939.3 900.6,940.3 901.6,940.7 902.6,940.9 903.6,941.0 904.6,941.0 905.6,941.0 906.6,941.0 907.6,941.3 908.6,942.5 909.6,943.9 910.6,945.6 911.6,947.7 912.6,949.6 913.6,951.5 914.6,953.0 915.6,953.5 916.6,953.7 917.6,953.9 918.6,953.7 919.6,953.2 920.6,952.5 921.6,951.8 922.6,951.2 923.6,950.6 924.6,950.2 925.6,950.3 926.6,950.9 927.6,951.7 928.6,952.9 929.6,954.8 930.6,956.9 931.6,959.4 932.6,962.5 933.6,965.8 934.6,969.1 935.6,972.7 936.6,975.9 937.6,978.4 938.6,980.6 939.6,982.4 940.6,983.8 941.6,985.0 942.6,986.0 943.6,986.8 944.6,987.3 945.6,987.8 946.6,988.2 947.6,988.5 948.6,988.7 949.6,988.7 950.6,988.7 951.6,988.7 952.6,988.7 953.6,988.7 954.6,988.7 955.6,988.7 956.6,988.7 957.6,988.7 958.6,988.7 959.6,988.7 960.6,988.7 961.6,988.7 962.6,988.7 963.6,988.7 964.6,988.7 965.6,988.7 966.6,988.7 967.6,988.7 968.6,988.7 969.6,988.7 970.6,988.7 971.6,988.7 972.6,988.7 973.6,988.7 974.6,988.7 975.6,988.7 976.6,988.7 977.6,988.7 978.6,988.7 979.6,988.7 980.6,988.7 981.6,988.7 982.6,988.7 983.6,988.7 984.6,988.7 985.6,988.7 986.6,988.7 987.6,988.7 988.6,988.7 989.6,988.7 990.6,988.7 991.6,988.7 992.6,988.7 993.6,988.7 994.6,988.7 995.6,988.7 996.6,988.7 997.6,988.7 998.6,988.7 999.6,988.7 1000.6,988.7 1001.6,988.7 1002.6,988.7 1003.6,988.7 1004.6,988.7 1005.6,988.7 1006.6,988.7 1007.6,988.7 1008.6,988.7 1009.6,988.7 1010.6,988.7 1011.6,988.7 1012.6,988.7 1013.6,988.7 1014.6,988.7 1015.6,988.7 1016.6,988.7 1017.6,988.7 1018.6,988.7 1019.6,988.7 1020.6,988.7 1021.6,988.7 1022.6,988.7 1023.6,988.7 1024.6,988.7 1025.6,988.7 1026.6,988.7 1027.6,988.7 1028.6,988.7 1029.6,988.7 1030.6,988.7 1031.6,988.7 1032.6,988.7 1033.6,988.7 1034.6,988.7 1035.6,988.7 1036.6,988.7 1037.6,988.7 1038.6,988.7 1039.6,988.7 1040.6,988.7 1041.6,988.7 1042.6,988.7 1043.6,988.7 1044.6,988.7 1045.6,988.7 1046.6,988.7 1047.6,988.7 1048.6,988.7 1049.6,988.7 1050.6,988.7 1051.6,988.7 1052.6,988.7 1053.6,988.7 1054.6,988.7 1055.6,988.7 1056.6,988.7 1057.6,988.7 1058.6,988.7 1059.6,988.7 1060.6,988.7 1061.6,988.7 1062.6,988.7 1063.6,988.7 1064.6,988.7 1065.6,988.7 1066.6,988.7 1067.6,988.7 1068.6,988.7 1069.6,988.7 1070.6,988.7 1071.6,988.7 1072.6,988.7 1073.6,988.7 1074.6,988.7 1075.6,988.7 1076.6,988.7 1077.6,988.7 1078.6,988.7 1079.6,988.7 1080.6,988.7 1081.6,988.7 1082.6,988.7 1083.6,988.7 1084.6,988.7 1085.6,988.7 1086.6,988.7 1087.6,988.7 1088.6,988.7 1089.6,988.7 1090.6,988.7 1091.6,988.7 1092.6,988.7 1093.6,988.7 1094.6,988.7 1095.6,988.7 1096.6,988.7 1097.6,988.7 1098.6,988.7 1099.6,988.7 1100.6,988.7 1101.6,988.7 1102.6,988.7 1103.6,988.7 1104.6,988.7 1105.6,988.7 1106.6,988.7 1107.6,988.7 1108.6,988.7 1109.6,988.7 1110.6,988.7 1111.6,988.7 1112.6,988.7 1113.6,988.7 1114.6,988.7 1115.6,988.7 1116.6,988.7 1117.6,988.7 1118.6,988.7 1119.6,988.7 1120.6,988.7 1121.6,988.7 1122.6,988.7 1123.6,988.7 1124.6,988.7 1125.6,988.7 1126.6,988.7 1127.6,988.7 1128.6,988.7 1129.6,988.7 1130.6,988.7 1131.6,988.7 1132.6,988.7 1133.6,988.7 1134.6,988.7 1135.6,988.7 1136.6,988.7 1137.6,988.7 1138.6,988.7 1139.6,988.7 1140.6,988.7 1141.6,988.7 1142.6,988.7 1143.6,988.7 1144.6,988.7 1145.6,988.7 1146.6,988.7 1147.6,988.7 1148.6,988.7 1149.6,988.7 1150.6,988.7 1151.6,988.7 1152.6,988.7 1153.6,988.7 1154.6,988.7 1155.6,988.7 1156.6,988.7 1157.6,988.7 1158.6,988.7 1159.6,988.7 1160.6,988.7 1161.6,988.7 1162.6,988.7 1163.6,988.7 1164.6,988.7 1165.6,988.7 1166.6,988.7 1167.6,988.7 1168.6,988.7 1169.6,988.7 1170.6,988.7 1171.6,988.7 1172.6,988.7 1173.6,988.7 1174.6,988.7 1175.6,988.7 1176.6,988.7 1177.6,988.7 1178.6,988.7 1179.6,988.7 1180.6,988.7 1181.6,988.7 1182.6,988.7 1183.6,988.7 1184.6,988.7 1185.6,988.7 1186.6,988.7 1187.6,988.7 1188.6,988.7 1189.6,988.7 1190.6,988.7 1191.6,988.7 1192.6,988.7 1193.6,988.7 1194.6,988.7 1195.6,988.7 1196.6,988.7 1197.6,988.7 1198.6,988.7 1199.6,988.7 1200.6,988.7 1201.6,988.7 1202.6,988.7 1203.6,988.7 1204.6,988.7 1205.6,988.7 1206.6,988.7 1207.6,988.7 1208.6,988.7 1209.6,988.7 1210.6,988.7 1211.6,988.7 1212.6,988.7 1213.6,988.7 1214.6,988.7 1215.6,988.7 1216.6,988.7 1217.6,988.7 1218.6,988.7 1219.6,988.7 1220.6,988.7 1221.6,988.7 1222.6,988.7 1223.6,988.7 1224.6,988.7 1225.6,988.7 1226.6,988.7 1227.6,988.7 1228.6,988.7 1229.6,988.7 1230.6,988.7 1231.6,988.7 1232.6,988.7 1233.6,988.7 1234.6,988.7 1235.6,988.7 1236.6,988.7 1237.6,988.7 1238.6,988.7 1239.6,988.7 1240.6,988.7 1241.6,988.7 1242.6,988.7 1243.6,988.7 1244.6,988.7 1245.6,988.7 1246.6,988.7 1247.6,988.7 1248.6,988.7 1249.6,988.7 1250.6,988.7 1251.6,988.7 1252.6,988.7 1253.6,988.7 1254.6,988.7 1255.6,988.7 1256.6,988.7 1257.6,988.7 1258.6,988.7 1259.6,988.7 1260.6,988.7 1261.6,988.7 1262.6,988.7 1263.6,988.7 1264.6,988.7 1265.6,988.7 1266.6,988.7 1267.6,988.7 1268.6,988.7 1269.6,988.7 1270.6,988.7 1271.6,988.7 1272.6,988.7 1273.6,988.7 1274.6,988.7 1275.6,988.7 1276.6,988.7 1277.6,988.7 1278.6,988.7 1279.6,988.7 1280.6,988.7 1281.6,988.7 1282.6,988.7 1283.6,988.7 1284.6,988.7 1285.6,988.7 1286.6,988.7 1287.6,988.7 1288.6,988.7 1289.6,988.7 1290.6,988.7 1291.6,988.7 1292.6,988.7 1293.6,988.7 1294.6,988.7 1295.6,988.7 1296.6,988.7 1297.6,988.7 1298.6,988.7 1299.6,988.7 1300.6,988.7 1301.6,988.7 1302.6,988.7 1303.6,988.7 1304.6,988.7 1305.6,988.7 1306.6,988.7 1307.6,988.7 1308.6,988.7 1309.6,988.7 1310.6,988.7 1311.6,988.7 1312.6,988.7 1313.6,988.7 1314.6,988.7 1315.6,988.7 1316.6,988.7 1317.6,988.7 1318.6,988.7 1319.6,988.7 1320.6,988.7 1321.6,988.7 1322.6,988.7 1323.6,988.7 1324.6,988.7 1325.6,988.7 1326.6,988.7 1327.6,988.7 1328.6,988.7 1329.6,988.7 1330.6,988.7 1331.6,988.7 1332.6,988.7 1333.6,988.7 1334.6,988.7 1335.6,988.7 1336.6,988.7 1337.6,988.7 1338.6,988.7 1339.6,988.7 1340.6,988.7 1341.6,988.7 1342.6,988.7 1343.6,988.7 1344.6,988.7 1345.6,988.7 1346.6,988.7 1347.6,988.7 1348.6,988.7 1349.6,988.7 1350.6,988.7 1351.6,988.7 1352.6,988.7 1353.6,988.7 1354.6,988.7 1355.6,988.7 1356.6,988.7 1357.6,988.7 1358.6,988.7 1359.6,988.7 1360.6,988.7 1361.6,988.7 1362.6,988.7 1363.6,988.7 1364.6,988.7 1365.6,988.7 1366.6,988.7 1367.6,988.7 1368.6,988.7 1369.6,988.7 1370.6,988.7 1371.6,988.7 1372.6,988.7 1373.6,988.7 1374.6,988.7 1375.6,988.7 1376.6,988.7 1377.6,988.7 1378.6,988.7 1379.0,988.7" fill="none" stroke="#0000ff" stroke-width="2" stroke-linejoin="round" shape-rendering="crispEdges"/>
<polyline points="1407.4,988.9 1408.4,988.9 1409.4,988.9 1410.4,988.9 1411.4,988.9 1412.4,988.9 1413.4,988.9 1414.4,988.9 1415.4,988.9 1416.4,988.9 1417.4,988.9 1418.4,988.9 1419.4,988.9 1420.4,988.9 1421.4,988.9 1422.4,988.9 1423.4,988.9 1424.4,988.9 1425.4,988.9 1426.4,988.9 1427.4,988.9 1428.4,988.9 1429.4,988.9 1430.4,988.9 1431.4,988.9 1432.4,988.9 1433.4,988.9 1434.4,988.9 1435.4,988.9 1436.4,988.9 1437.4,988.9 1438.4,988.9 1439.4,988.9 1440.4,988.9 1441.4,988.9 1442.4,988.9 1443.4,988.9 1444.4,988.9 1445.4,988.9 1446.4,988.9 1447.4,988.9 1448.4,988.9 1449.4,988.9 1450.4,988.9 1451.4,988.9 1452.4,988.9 1453.4,988.9 1454.4,988.9 1455.4,988.6 1456.4,988.1 1457.4,987.4 1458.4,986.7 1459.4,985.7 1460.4,984.6 1461.4,983.2 1462.4,981.8 1463.4,980.2 1464.4,978.4 1465.4,976.4 1466.4,974.3 1467.4,972.1 1468.4,969.7 1469.4,966.8 1470.4,964.4 1471.4,962.9 1472.4,961.7 1473.4,960.9 1474.4,960.2 1475.4,960.1 1476.4,960.4 1477.4,961.0 1478.4,961.6 1479.4,962.7 1480.4,964.0 1481.4,965.3 1482.4,966.9 1483.4,968.6 1484.4,970.2 1485.4,972.0 1486.4,973.8 1487.4,975.5 1488.4,977.3 1489.4,979.0 1490.4,980.8 1491.4,982.4 1492.4,983.6 1493.4,984.6 1494.4,985.4 1495.4,985.9 1496.4,986.4 1497.4,986.8 1498.4,986.9 1499.4,986.9 1500.4,986.9 1501.4,986.9 1502.4,986.9 1503.4,986.9 1504.4,986.9 1505.4,986.9 1506.4,986.9 1507.4,986.9 1508.4,986.9 1509.4,986.9 1510.4,987.0 1511.4,987.0 1512.4,987.0 1513.4,987.0 1514.4,987.5 1515.4,987.8 1516.4,987.8 1517.4,987.8 1518.4,987.8 1519.4,987.8 1520.4,987.8 1521.4,987.8 1522.4,987.8 1523.4,987.5 1524.4,987.2 1525.4,986.7 1526.4,986.0 1527.4,985.1 1528.4,984.2 1529.4,983.5 1530.4,982.9 1531.4,982.1 1532.4,981.2 1533.4,980.1 1534.4,978.8 1535.4,977.4 1536.4,975.8 1537.4,974.2 1538.4,972.7 1539.4,971.3 1540.4,970.2 1541.4,969.3 1542.4,968.5 1543.4,968.2 1544.4,968.2 1545.4,968.1 1546.4,968.1 1547.4,968.1 1548.4,968.1 1549.4,968.1 1550.4,968.1 1551.4,968.1 1552.4,968.1 1553.4,968.2 1554.4,968.7 1555.4,969.5 1556.4,970.4 1557.4,971.6 1558.4,973.0 1559.4,974.2 1560.4,975.6 1561.4,976.7 1562.4,977.4 1563.4,977.8 1564.4,977.9 1565.4,977.9 1566.4,977.9 1567.4,977.9 1568.4,977.9 1569.4,977.9 1570.4,977.9 1571.4,977.9 1572.4,978.2 1573.4,978.9 1574.4,979.0 1575.4,979.0 1576.4,979.0 1577.4,979.0 1578.4,979.0 1579.4,979.0 1580.4,979.0 1581.4,978.9 1582.4,978.8 1583.4,978.8 1584.4,979.1 1585.4,979.6 1586.4,980.1 1587.4,981.0 1588.4,982.0 1589.4,982.6 1590.4,982.8 1591.4,983.0 1592.4,983.1 1593.4,983.1 1594.4,983.0 1595.4,982.9 1596.4,982.9 1597.4,982.6 1598.4,982.0 1599.4,981.4 1600.4,981.2 1601.4,981.3 1602.4,981.5 1603.4,981.9 1604.4,982.2 1605.4,982.8 1606.4,983.5 1607.4,984.3 1608.4,984.9 1609.4,985.5 1610.4,986.0 1611.4,986.4 1612.4,986.6 1613.4,986.4 1614.4,985.8 1615.4,985.3 1616.4,984.8 1617.4,984.6 1618.4,984.4 1619.4,984.1 1620.4,984.0 1621.4,983.9 1622.4,984.0 1623.4,984.4 1624.4,984.8 1625.4,984.9 1626.4,985.0 1627.4,985.0 1628.4,985.1 1629.4,985.5 1630.4,986.3 1631.4,986.9 1632.4,987.3 1633.4,987.5 1634.4,987.7 1635.4,987.8 1636.4,987.8 1637.4,987.8 1638.4,987.8 1639.4,987.8 1640.4,987.8 1641.4,987.5 1642.4,987.1 1643.4,986.9 1644.4,987.0 1645.4,987.2 1646.4,987.4 1647.4,987.7 1648.4,987.9 1649.4,988.1 1650.4,988.4 1651.4,988.6 1652.4,988.6 1653.4,988.6 1654.4,988.6 1655.4,988.6 1656.4,988.6 1657.4,988.6 1658.4,988.6 1659.4,988.6 1660.4,988.2 1661.4,987.8 1662.4,987.8 1663.4,987.8 1664.4,987.8 1665.4,987.8 1666.4,988.0 1667.4,988.4 1668.4,988.6 1669.4,988.6 1670.4,988.6 1671.4,988.6 1672.4,988.6 1673.4,988.6 1674.4,988.6 1675.4,988.6 1676.4,988.6 1677.4,988.6 1678.4,988.6 1679.4,988.6 1680.4,988.6 1681.4,988.5 1682.4,988.0 1683.4,987.3 1684.4,986.5 1685.4,985.3 1686.4,983.8 1687.4,982.3 1688.4,980.2 1689.4,976.0 1690.4,970.0 1691.4,964.9 1692.4,958.5 1693.4,950.3 1694.4,944.1 1695.4,937.9 1696.4,930.8 1697.4,925.9 1698.4,922.6 1699.4,920.8 1700.4,920.2 1701.4,920.7 1702.4,921.5 1703.4,923.0 1704.4,925.0 1705.4,927.4 1706.4,929.7 1707.4,931.7 1708.4,933.1 1709.4,933.9 1710.4,934.5 1711.4,935.0 1712.4,935.6 1713.4,936.1 1714.4,936.6 1715.4,937.4 1716.4,938.9 1717.4,940.8 1718.4,943.2 1719.4,946.4 1720.4,949.7 1721.4,953.1 1722.4,956.3 1723.4,959.1 1724.4,960.4 1725.4,960.9 1726.4,960.4 1727.4,959.3 1728.4,958.0 1729.4,956.1 1730.4,954.0 1731.4,951.4 1732.4,949.6 1733.4,948.3 1734.4,948.0 1735.4,948.0 1736.4,948.0 1737.4,948.0 1738.4,948.7 1739.4,950.1 1740.4,951.5 1741.4,953.0 1742.4,954.8 1743.4,956.9 1744.4,959.5 1745.4,961.9 1746.4,964.1 1747.4,966.9 1748.4,970.4 1749.4,973.9 1750.4,977.3 1751.4,980.0 1752.4,982.2 1753.4,983.9 1754.4,985.2 1755.4,986.3 1756.4,986.9 1757.4,987.3 1758.4,987.6 1759.4,987.8 1760.4,987.8 1761.4,987.9 1762.4,987.9 1763.4,987.9 1764.4,987.9 1765.4,987.9 1766.4,987.9 1767.4,988.0 1768.4,988.3 1769.4,988.6 1770.4,988.6 1771.4,988.6 1772.4,988.6 1773.4,988.6 1774.4,988.6 1775.4,988.6 1776.4,988.6 1777.4,988.6 1778.4,988.6 1779.4,988.6 1780.4,988.6 1781.4,988.6 1782.4,988.6 1783.4,988.4 1784.4,988.1 1785.4,987.8 1786.4,987.6 1787.4,987.3 1788.4,987.2 1789.4,987.1 1790.4,987.2 1791.4,987.2 1792.4,987.3 1793.4,987.3 1794.4,987.6 1795.4,987.8 1796.4,988.1 1797.4,988.3 1798.4,988.5 1799.4,988.6 1800.4,988.6 1801.4,988.6 1802.4,988.6 1803.4,988.6 1804.4,988.6 1805.4,988.6 1806.4,988.6 1807.4,988.6 1808.4,988.6 1809.4,988.6 1810.4,988.6 1811.4,988.5 1812.4,988.3 1813.4,988.0 1814.4,987.6 1815.4,986.9 1816.4,985.8 1817.4,984.6 1818.4,983.1 1819.4,981.5 1820.4,980.1 1821.4,978.9 1822.4,977.8 1823.4,977.0 1824.4,976.3 1825.4,976.1 1826.4,976.1 1827.4,976.2 1828.4,976.5 1829.4,977.5 1830.4,978.8 1831.4,980.0 1832.4,981.3 1833.4,982.5 1834.4,983.7 1835.4,984.7 1836.4,985.4 1837.4,986.0 1838.4,986.4 1839.4,986.6 1840.4,986.6 1841.4,986.5 1842.4,986.5 1843.4,986.4 1844.4,986.4 1845.4,986.3 1846.4,986.2 1847.4,986.1 1848.4,986.0 1849.4,985.8 1850.4,985.2 1851.4,984.4 1852.4,983.4 1853.4,982.3 1854.4,980.7 1855.4,978.6 1856.4,975.3 1857.4,971.4 1858.4,966.9 1859.4,963.5 1860.4,960.7 1861.4,957.8 1862.4,955.2 1863.4,954.2 1864.4,953.7 1865.4,953.8 1866.4,954.2 1867.4,954.8 1868.4,956.5 1869.4,958.8 1870.4,961.1 1871.4,963.5 1872.4,965.8 1873.4,968.1 1874.4,970.3 1875.4,972.1 1876.4,973.2 1877.4,973.8 1878.4,973.8 1879.4,973.8 1880.4,973.8 1880.5,973.8" fill="none" stroke="#0000ff" stroke-width="2" stroke-linejoin="round" shape-rendering="crispEdges"/>
<polyline points="257.6,1391.1 258.6,1391.6 259.6,1391.6 260.6,1391.9 261.6,1391.1 262.6,1391.2 263.6,1391.1 264.6,1391.2 265.6,1391.9 266.6,1391.2 267.6,1391.7 268.6,1391.4 269.6,1391.5 270.6,1391.7 271.6,1392.2 272.6,1392.0 273.6,1391.3 274.6,1391.6 275.6,1391.5 276.6,1392.4 277.6,1392.4 278.6,1392.4 279.6,1392.5 280.6,1392.4 281.6,1392.7 282.6,1392.5 283.6,1391.9 284.6,1392.6 285.6,1392.2 286.6,1392.6 287.6,1392.3 288.6,1392.2 289.6,1392.2 290.6,1392.3 291.6,1392.1 292.6,1391.9 293.6,1392.8 294.6,1392.8 295.6,1393.0 296.6,1392.7 297.6,1392.5 298.6,1392.8 299.6,1392.1 300.6,1392.8 301.6,1392.5 302.6,1392.2 303.6,1392.2 304.6,1392.6 305.6,1392.3 306.6,1392.6 307.6,1392.8 308.6,1392.6 309.6,1392.3 310.6,1392.7 311.6,1392.4 312.6,1392.5 313.6,1392.4 314.6,1392.7 315.6,1392.3 316.6,1393.1 317.6,1393.4 318.6,1392.8 319.6,1393.2 320.6,1393.5 321.6,1392.4 322.6,1392.6 323.6,1393.4 324.6,1393.5 325.6,1393.2 326.6,1392.7 327.6,1393.0 328.6,1393.6 329.6,1393.6 330.6,1393.5 331.6,1392.8 332.6,1393.6 333.6,1393.1 334.6,1393.5 335.6,1392.8 336.6,1393.8 337.6,1393.4 338.6,1393.5 339.6,1392.9 340.6,1393.4 341.6,1393.4 342.6,1393.4 343.6,1393.1 344.6,1393.5 345.6,1393.1 346.6,1393.0 347.6,1392.8 348.6,1393.4 349.6,1392.7 350.6,1392.9 351.6,1392.7 352.6,1393.3 353.6,1393.2 354.6,1393.2 355.6,1392.6 356.6,1393.0 357.6,1392.9 358.6,1392.6 359.6,1392.4 360.6,1393.6 361.6,1392.5 362.6,1392.7 363.6,1392.6 364.6,1393.0 365.6,1392.4 366.6,1392.8 367.6,1392.6 368.6,1393.2 369.6,1392.1 370.6,1392.5 371.6,1392.6 372.6,1393.2 373.6,1392.6 374.6,1392.5 375.6,1392.7 376.6,1392.2 377.6,1391.8 378.6,1392.3 379.6,1392.8 380.6,1392.5 381.6,1391.9 382.6,1392.3 383.6,1392.5 384.6,1391.7 385.6,1392.1 386.6,1391.7 387.6,1391.5 388.6,1391.5 389.6,1391.3 390.6,1391.5 391.6,1391.0 392.6,1391.4 393.6,1390.9 394.6,1391.7 395.6,1391.4 396.6,1390.6 397.6,1391.5 398.6,1390.7 399.6,1391.0 400.6,1391.0 401.6,1390.7 402.6,1390.6 403.6,1390.7 404.6,1390.3 405.6,1391.1 406.6,1390.1 407.6,1390.9 408.6,1390.1 409.6,1390.1 410.6,1390.1 411.6,1389.6 412.6,1389.7 413.6,1389.9 414.6,1389.9 415.6,1390.4 416.6,1390.4 417.6,1389.2 418.6,1389.8 419.6,1389.2 420.6,1389.9 421.6,1389.3 422.6,1389.9 423.6,1389.4 424.6,1388.8 425.6,1388.6 426.6,1388.9 427.6,1389.5 428.6,1388.6 429.6,1388.9 430.6,1388.7 431.6,1388.6 432.6,1389.1 433.6,1388.4 434.6,1388.9 435.6,1388.8 436.6,1389.0 437.6,1388.5 438.6,1388.9 439.6,1388.2 440.6,1388.3 441.6,1388.3 442.6,1388.5 443.6,1388.5 444.6,1387.6 445.6,1387.5 446.6,1387.9 447.6,1388.2 448.6,1387.8 449.6,1387.5 450.6,1388.2 451.6,1387.3 452.6,1387.0 453.6,1386.9 454.6,1386.8 455.6,1387.6 456.6,1386.8 457.6,1387.5 458.6,1387.6 459.6,1387.7 460.6,1387.4 461.6,1386.9 462.6,1387.1 463.6,1387.3 464.6,1387.1 465.6,1386.5 466.6,1387.0 467.6,1386.1 468.6,1386.3 469.6,1387.1 470.6,1386.4 471.6,1386.1 472.6,1386.6 473.6,1386.2 474.6,1385.6 475.6,1385.5 476.6,1385.8 477.6,1385.8 478.6,1386.5 479.6,1385.6 480.6,1386.2 481.6,1386.2 482.6,1385.6 483.6,1386.2 484.6,1385.9 485.6,1385.5 486.6,1385.2 487.6,1385.4 488.6,1385.9 489.6,1385.4 490.6,1384.9 491.6,1385.1 492.6,1385.2 493.6,1384.8 494.6,1385.2 495.6,1384.5 496.6,1385.4 497.6,1384.6 498.6,1384.4 499.6,1385.0 500.6,1384.6 501.6,1385.3 502.6,1384.8 503.6,1384.8 504.6,1385.1 505.6,1384.3 506.6,1384.9 507.6,1384.8 508.6,1384.5 509.6,1385.1 510.6,1383.9 511.6,1384.9 512.6,1384.0 513.6,1384.8 514.6,1384.0 515.6,1383.9 516.6,1384.4 517.6,1384.9 518.6,1384.1 519.6,1384.3 520.6,1384.4 521.6,1384.1 522.6,1384.3 523.6,1383.8 524.6,1384.2 525.6,1384.5 526.6,1384.1 527.6,1384.0 528.6,1383.9 529.6,1384.4 530.6,1384.2 531.6,1384.6 532.6,1384.5 533.6,1383.9 534.6,1384.6 535.6,1384.6 536.6,1384.5 537.6,1384.5 538.6,1384.4 539.6,1384.4 540.6,1384.4 541.6,1384.3 542.6,1384.0 543.6,1383.9 544.6,1384.5 545.6,1384.3 546.6,1383.9 547.6,1384.4 548.6,1384.4 549.6,1384.3 550.6,1384.5 551.6,1384.6 552.6,1384.2 553.6,1384.6 554.6,1384.3 555.6,1384.4 556.6,1384.3 557.6,1384.7 558.6,1384.3 559.6,1384.8 560.6,1384.3 561.6,1384.6 562.6,1384.8 563.6,1384.6 564.6,1384.4 565.6,1384.1 566.6,1384.5 567.6,1384.5 568.6,1384.9 569.6,1384.9 570.6,1385.1 571.6,1384.7 572.6,1384.7 573.6,1384.8 574.6,1385.1 575.6,1384.5 576.6,1384.7 577.6,1384.6 578.6,1384.9 579.6,1384.9 580.6,1385.5 581.6,1384.9 582.6,1385.6 583.6,1385.1 584.6,1385.1 585.6,1385.8 586.6,1385.1 587.6,1385.2 588.6,1385.3 589.6,1385.3 590.6,1385.6 591.6,1385.5 592.6,1385.5 593.6,1385.5 594.6,1386.2 595.6,1385.6 596.6,1385.9 597.6,1386.2 598.6,1386.6 599.6,1386.4 600.6,1386.4 601.6,1386.5 602.6,1386.5 603.6,1386.6 604.6,1386.4 605.6,1386.4 606.6,1386.6 607.6,1386.6 608.6,1386.6 609.6,1386.8 610.6,1386.6 611.6,1386.8 612.6,1386.7 613.6,1386.7 614.6,1386.7 615.6,1386.7 616.6,1386.8 617.6,1386.8 618.6,1387.0 619.6,1386.7 620.6,1386.9 621.6,1386.7 622.6,1386.9 623.6,1386.7 624.6,1387.0 625.6,1387.1 626.6,1386.8 627.6,1387.0 628.6,1386.8 629.6,1386.8 630.6,1386.8 631.6,1386.9 632.6,1386.8 633.6,1387.0 634.6,1387.0 635.6,1386.9 636.6,1387.0 637.6,1386.8 638.6,1386.9 639.6,1386.9 640.6,1386.8 641.6,1387.1 642.6,1386.8 643.6,1386.8 644.6,1387.1 645.6,1387.1 646.6,1386.9 647.6,1386.9 648.6,1386.8 649.6,1386.8 650.6,1387.0 651.6,1386.9 652.6,1386.8 653.6,1387.1 654.6,1386.8 655.6,1386.9 656.6,1387.0 657.6,1387.0 658.6,1386.8 659.6,1387.0 660.6,1387.0 661.6,1387.0 662.6,1387.1 663.6,1387.0 664.6,1387.0 665.6,1387.0 666.6,1386.9 667.6,1386.9 668.6,1387.0 669.6,1387.0 670.6,1386.9 671.6,1386.7 672.6,1387.0 673.6,1386.8 674.6,1386.9 675.6,1386.8 676.6,1386.9 677.6,1386.8 678.6,1387.0 679.6,1386.9 680.6,1386.9 681.6,1387.0 682.6,1386.8 683.6,1386.8 684.6,1386.9 685.6,1386.9 686.6,1386.9 687.6,1387.0 688.6,1386.8 689.6,1386.8 690.6,1386.7 691.6,1386.7 692.6,1386.7 693.6,1386.8 694.6,1386.9 695.6,1386.6 696.6,1386.7 697.6,1386.8 698.6,1386.7 699.6,1386.8 700.6,1386.5 701.6,1386.8 702.6,1386.6 703.6,1386.7 704.6,1386.4 705.6,1386.6 706.6,1386.7 707.6,1386.6 708.6,1386.6 709.6,1386.5 710.6,1386.3 711.6,1386.5 712.6,1386.4 713.6,1386.5 714.6,1386.4 715.6,1386.3 716.6,1386.4 717.6,1386.1 718.6,1386.4 719.6,1386.0 720.6,1386.3 721.6,1386.1 722.6,1386.0 723.6,1386.2 724.6,1386.0 725.6,1385.9 726.6,1385.7 727.6,1385.9 728.6,1385.8 729.6,1385.6 730.6,1385.5 731.6,1385.6 732.6,1385.7 733.6,1385.6 734.6,1385.4 735.6,1385.2 736.6,1385.5 737.6,1385.1 738.6,1385.3 739.6,1385.1 740.6,1385.3 741.6,1384.9 742.6,1385.1 743.6,1385.0 744.6,1384.6 745.6,1384.8 746.6,1384.6 747.6,1384.7 748.6,1384.7 749.6,1384.5 750.6,1384.3 751.6,1384.3 752.6,1384.0 753.6,1384.0 754.6,1383.8 755.6,1383.9 756.6,1383.5 757.6,1383.6 758.6,1383.3 759.6,1383.3 760.6,1382.8 761.6,1382.6 762.6,1382.6 763.6,1382.5 764.6,1382.3 765.6,1382.1 766.6,1382.0 767.6,1381.4 768.6,1381.4 769.6,1381.2 770.6,1380.9 771.6,1380.7 772.6,1380.5 773.6,1380.4 774.6,1380.4 775.6,1380.2 776.6,1380.0 777.6,1379.6 778.6,1379.7 779.6,1379.4 780.6,1379.1 781.6,1379.1 782.6,1378.7 783.6,1378.5 784.6,1378.4 785.6,1378.2 786.6,1377.7 787.6,1377.5 788.6,1377.1 789.6,1376.9 790.6,1376.6 791.6,1376.0 792.6,1375.7 793.6,1375.2 794.6,1374.6 795.6,1374.1 796.6,1373.7 797.6,1373.2 798.6,1372.5 799.6,1371.6 800.6,1371.2 801.6,1370.4 802.6,1369.4 803.6,1368.4 804.6,1367.3 805.6,1366.3 806.6,1364.9 807.6,1363.5 808.6,1362.5 809.6,1360.8 810.6,1359.1 811.6,1357.6 812.6,1355.2 813.6,1352.9 814.6,1350.1 815.6,1346.8 816.6,1342.8 817.6,1337.0 818.6,1330.4 819.6,1322.9 820.6,1313.6 821.6,1302.9 822.6,1289.8 823.6,1274.5 824.6,1258.6 825.6,1242.8 826.6,1228.9 827.6,1215.4 828.6,1202.9 829.6,1194.4 830.6,1188.6 831.6,1185.0 832.6,1183.7 833.6,1184.6 834.6,1186.4 835.6,1193.1 836.6,1200.2 837.6,1206.1 838.6,1208.6 839.6,1207.5 840.6,1204.3 841.6,1196.3 842.6,1185.0 843.6,1170.0 844.6,1152.7 845.6,1133.3 846.6,1114.1 847.6,1096.3 848.6,1080.3 849.6,1065.2 850.6,1051.2 851.6,1040.7 852.6,1032.9 853.6,1029.1 854.6,1026.9 855.6,1025.9 856.6,1027.1 857.6,1031.0 858.6,1038.0 859.6,1051.1 860.6,1065.1 861.6,1081.5 862.6,1098.5 863.6,1115.8 864.6,1132.4 865.6,1148.0 866.6,1161.5 867.6,1174.0 868.6,1184.4 869.6,1194.2 870.6,1202.2 871.6,1209.6 872.6,1216.5 873.6,1222.6 874.6,1228.2 875.6,1233.3 876.6,1238.7 877.6,1243.9 878.6,1249.2 879.6,1254.4 880.6,1259.8 881.6,1264.4 882.6,1268.9 883.6,1272.5 884.6,1275.9 885.6,1277.7 886.6,1278.7 887.6,1278.9 888.6,1277.8 889.6,1276.3 890.6,1273.7 891.6,1270.1 892.6,1264.9 893.6,1257.2 894.6,1247.5 895.6,1234.1 896.6,1223.9 897.6,1219.5 898.6,1220.6 899.6,1222.4 900.6,1224.0 901.6,1222.3 902.6,1218.9 903.6,1213.6 904.6,1204.8 905.6,1191.9 906.6,1177.6 907.6,1166.1 908.6,1158.7 909.6,1156.3 910.6,1155.3 911.6,1157.2 912.6,1161.6 913.6,1170.9 914.6,1185.4 915.6,1204.3 916.6,1227.7 917.6,1251.8 918.6,1270.9 919.6,1285.7 920.6,1298.3 921.6,1309.6 922.6,1319.9 923.6,1328.6 924.6,1335.8 925.6,1342.2 926.6,1347.2 927.6,1351.0 928.6,1354.2 929.6,1357.0 930.6,1359.6 931.6,1361.4 932.6,1363.3 933.6,1364.7 934.6,1366.0 935.6,1367.1 936.6,1368.3 937.6,1369.3 938.6,1370.2 939.6,1371.2 940.6,1371.5 941.6,1372.2 942.6,1373.1 943.6,1373.6 944.6,1374.1 945.6,1374.5 946.6,1374.7 947.6,1375.3 948.6,1375.5 949.6,1376.1 950.6,1376.3 951.6,1376.7 952.6,1377.0 953.6,1377.2 954.6,1377.6 955.6,1378.0 956.6,1378.0 957.6,1378.2 958.6,1378.3 959.6,1378.4 960.6,1378.6 961.6,1379.0 962.6,1379.1 963.6,1379.0 964.6,1378.9 965.6,1379.0 966.6,1379.2 967.6,1378.9 968.6,1378.9 969.6,1379.0 970.6,1378.9 971.6,1378.9 972.6,1378.9 973.6,1379.1 974.6,1379.2 975.6,1378.9 976.6,1378.9 977.6,1379.0 978.6,1378.7 979.6,1378.6 980.6,1378.7 981.6,1378.5 982.6,1378.3 983.6,1378.2 984.6,1377.9 985.6,1377.9 986.6,1377.6 987.6,1377.4 988.6,1377.1 989.6,1377.1 990.6,1376.5 991.6,1376.5 992.6,1376.2 993.6,1376.0 994.6,1376.2 995.6,1376.2 996.6,1376.1 997.6,1375.8 998.6,1375.8 999.6,1375.7 1000.6,1375.4 1001.6,1375.4 1002.6,1375.3 1003.6,1375.0 1004.6,1375.0 1005.6,1374.7 1006.6,1374.4 1007.6,1374.5 1008.6,1374.3 1009.6,1374.1 1010.6,1374.3 1011.6,1374.1 1012.6,1374.2 1013.6,1374.1 1014.6,1374.3 1015.6,1374.2 1016.6,1374.1 1017.6,1374.0 1018.6,1374.1 1019.6,1374.1 1020.6,1374.0 1021.6,1374.0 1022.6,1373.8 1023.6,1373.7 1024.6,1373.5 1025.6,1373.3 1026.6,1373.1 1027.6,1373.2 1028.6,1372.8 1029.6,1372.3 1030.6,1372.1 1031.6,1371.9 1032.6,1371.7 1033.6,1371.4 1034.6,1371.0 1035.6,1370.5 1036.6,1370.2 1037.6,1370.0 1038.6,1369.4 1039.6,1369.2 1040.6,1368.6 1041.6,1368.4 1042.6,1368.0 1043.6,1367.9 1044.6,1367.5 1045.6,1367.1 1046.6,1366.6 1047.6,1366.5 1048.6,1366.3 1049.6,1365.6 1050.6,1365.5 1051.6,1365.2 1052.6,1364.8 1053.6,1364.5 1054.6,1364.5 1055.6,1364.0 1056.6,1363.8 1057.6,1363.3 1058.6,1363.2 1059.6,1363.1 1060.6,1362.4 1061.6,1362.1 1062.6,1362.1 1063.6,1361.7 1064.6,1361.2 1065.6,1360.8 1066.6,1360.4 1067.6,1360.2 1068.6,1359.8 1069.6,1359.3 1070.6,1359.0 1071.6,1358.4 1072.6,1358.1 1073.6,1357.9 1074.6,1357.5 1075.6,1356.9 1076.6,1356.5 1077.6,1356.1 1078.6,1355.5 1079.6,1354.9 1080.6,1354.4 1081.6,1354.2 1082.6,1353.6 1083.6,1353.1 1084.6,1352.4 1085.6,1352.3 1086.6,1351.5 1087.6,1351.1 1088.6,1350.6 1089.6,1349.9 1090.6,1349.3 1091.6,1348.9 1092.6,1348.2 1093.6,1347.5 1094.6,1347.0 1095.6,1346.3 1096.6,1346.1 1097.6,1345.2 1098.6,1344.9 1099.6,1344.1 1100.6,1343.6 1101.6,1342.8 1102.6,1342.1 1103.6,1341.4 1104.6,1341.0 1105.6,1340.4 1106.6,1339.8 1107.6,1339.2 1108.6,1338.3 1109.6,1337.8 1110.6,1337.2 1111.6,1336.6 1112.6,1335.7 1113.6,1335.3 1114.6,1334.3 1115.6,1333.8 1116.6,1333.0 1117.6,1332.4 1118.6,1331.5 1119.6,1330.9 1120.6,1330.2 1121.6,1329.5 1122.6,1328.7 1123.6,1327.9 1124.6,1327.1 1125.6,1326.4 1126.6,1325.9 1127.6,1325.0 1128.6,1323.9 1129.6,1323.3 1130.6,1322.3 1131.6,1321.5 1132.6,1320.9 1133.6,1319.8 1134.6,1318.8 1135.6,1318.1 1136.6,1317.2 1137.6,1316.3 1138.6,1315.5 1139.6,1314.4 1140.6,1313.4 1141.6,1312.4 1142.6,1311.6 1143.6,1310.7 1144.6,1309.6 1145.6,1308.6 1146.6,1307.5 1147.6,1306.7 1148.6,1305.8 1149.6,1304.6 1150.6,1303.6 1151.6,1302.5 1152.6,1301.4 1153.6,1300.3 1154.6,1299.5 1155.6,1298.6 1156.6,1297.5 1157.6,1296.5 1158.6,1295.5 1159.6,1294.3 1160.6,1293.3 1161.6,1292.2 1162.6,1291.5 1163.6,1290.4 1164.6,1289.4 1165.6,1288.5 1166.6,1287.6 1167.6,1286.3 1168.6,1285.4 1169.6,1284.6 1170.6,1283.8 1171.6,1282.7 1172.6,1281.9 1173.6,1281.1 1174.6,1280.1 1175.6,1279.4 1176.6,1278.4 1177.6,1277.8 1178.6,1277.1 1179.6,1276.5 1180.6,1275.6 1181.6,1275.0 1182.6,1274.4 1183.6,1273.8 1184.6,1273.2 1185.6,1272.6 1186.6,1272.1 1187.6,1271.9 1188.6,1271.5 1189.6,1271.1 1190.6,1270.8 1191.6,1270.4 1192.6,1270.1 1193.6,1270.0 1194.6,1269.8 1195.6,1269.8 1196.6,1269.8 1197.6,1269.6 1198.6,1269.5 1199.6,1269.7 1200.6,1269.8 1201.6,1269.8 1202.6,1270.0 1203.6,1270.2 1204.6,1270.5 1205.6,1270.4 1206.6,1271.0 1207.6,1271.0 1208.6,1271.5 1209.6,1271.9 1210.6,1272.6 1211.6,1272.7 1212.6,1273.2 1213.6,1274.1 1214.6,1274.4 1215.6,1275.1 1216.6,1275.7 1217.6,1276.3 1218.6,1276.9 1219.6,1277.9 1220.6,1278.5 1221.6,1279.4 1222.6,1280.4 1223.6,1281.2 1224.6,1281.8 1225.6,1282.7 1226.6,1283.4 1227.6,1284.5 1228.6,1285.3 1229.6,1286.2 1230.6,1287.4 1231.6,1288.2 1232.6,1289.2 1233.6,1289.9 1234.6,1290.9 1235.6,1292.0 1236.6,1293.0 1237.6,1293.7 1238.6,1294.8 1239.6,1295.8 1240.6,1296.7 1241.6,1297.6 1242.6,1298.7 1243.6,1299.5 1244.6,1300.5 1245.6,1301.5 1246.6,1302.7 1247.6,1303.5 1248.6,1304.6 1249.6,1305.4 1250.6,1306.7 1251.6,1307.3 1252.6,1308.6 1253.6,1309.5 1254.6,1310.6 1255.6,1311.6 1256.6,1312.2 1257.6,1313.2 1258.6,1314.2 1259.6,1315.1 1260.6,1316.4 1261.6,1317.0 1262.6,1318.2 1263.6,1319.3 1264.6,1320.1 1265.6,1321.2 1266.6,1322.0 1267.6,1322.8 1268.6,1324.0 1269.6,1324.6 1270.6,1325.7 1271.6,1326.5 1272.6,1327.5 1273.6,1328.3 1274.6,1329.4 1275.6,1330.3 1276.6,1331.1 1277.6,1331.9 1278.6,1332.9 1279.6,1333.7 1280.6,1334.2 1281.6,1335.4 1282.6,1335.9 1283.6,1336.7 1284.6,1337.6 1285.6,1338.4 1286.6,1339.3 1287.6,1340.3 1288.6,1340.8 1289.6,1341.8 1290.6,1342.5 1291.6,1343.2 1292.6,1344.3 1293.6,1345.0 1294.6,1345.6 1295.6,1346.6 1296.6,1347.1 1297.6,1348.0 1298.6,1348.8 1299.6,1349.4 1300.6,1350.0 1301.6,1350.6 1302.6,1351.4 1303.6,1352.2 1304.6,1352.7 1305.6,1353.5 1306.6,1353.9 1307.6,1354.6 1308.6,1355.3 1309.6,1355.9 1310.6,1356.5 1311.6,1356.9 1312.6,1357.5 1313.6,1358.2 1314.6,1358.6 1315.6,1359.1 1316.6,1359.8 1317.6,1360.2 1318.6,1360.8 1319.6,1361.5 1320.6,1362.0 1321.6,1362.4 1322.6,1363.0 1323.6,1363.4 1324.6,1363.7 1325.6,1364.4 1326.6,1364.6 1327.6,1365.1 1328.6,1365.7 1329.6,1366.0 1330.6,1366.7 1331.6,1367.1 1332.6,1367.4 1333.6,1368.1 1334.6,1368.2 1335.6,1368.8 1336.6,1369.2 1337.6,1369.8 1338.6,1369.9 1339.6,1370.4 1340.6,1370.9 1341.6,1371.1 1342.6,1371.7 1343.6,1371.8 1344.6,1372.1 1345.6,1372.4 1346.6,1373.0 1347.6,1373.3 1348.6,1373.6 1349.6,1373.9 1350.6,1374.3 1351.6,1374.4 1352.6,1374.6 1353.6,1374.9 1354.6,1375.4 1355.6,1375.7 1356.6,1375.6 1357.6,1375.8 1358.6,1376.4 1359.6,1376.7 1360.6,1376.6 1361.6,1376.9 1362.6,1376.9 1363.6,1377.3 1364.6,1377.4 1365.6,1377.8 1366.6,1377.7 1367.6,1378.1 1368.6,1378.2 1369.6,1378.4 1370.6,1378.8 1371.6,1378.8 1372.6,1379.1 1373.6,1379.2 1374.6,1379.1 1375.6,1379.3 1376.6,1379.7 1377.6,1379.8 1378.6,1379.6 1379.0,1380.0" fill="none" stroke="#ff0000" stroke-width="2" stroke-linejoin="round" shape-rendering="crispEdges"/>
<polyline points="1407.4,1390.7 1408.4,1391.0 1409.4,1390.9 1410.4,1391.0 1411.4,1390.1 1412.4,1389.0 1413.4,1388.9 1414.4,1390.6 1415.4,1390.8 1416.4,1391.1 1417.4,1390.9 1418.4,1391.1 1419.4,1390.7 1420.4,1390.7 1421.4,1391.0 1422.4,1389.2 1423.4,1388.5 1424.4,1390.3 1425.4,1390.7 1426.4,1390.3 1427.4,1390.3 1428.4,1390.0 1429.4,1389.1 1430.4,1388.3 1431.4,1387.3 1432.4,1388.3 1433.4,1388.6 1434.4,1388.6 1435.4,1389.0 1436.4,1388.0 1437.4,1387.5 1438.4,1386.5 1439.4,1386.2 1440.4,1385.9 1441.4,1385.0 1442.4,1383.4 1443.4,1381.8 1444.4,1378.2 1445.4,1375.0 1446.4,1372.4 1447.4,1370.1 1448.4,1366.6 1449.4,1361.7 1450.4,1354.7 1451.4,1340.7 1452.4,1325.2 1453.4,1320.3 1454.4,1324.0 1455.4,1328.8 1456.4,1330.3 1457.4,1331.5 1458.4,1331.8 1459.4,1332.8 1460.4,1339.0 1461.4,1349.4 1462.4,1356.4 1463.4,1361.2 1464.4,1364.2 1465.4,1366.3 1466.4,1368.0 1467.4,1369.0 1468.4,1369.6 1469.4,1370.3 1470.4,1370.8 1471.4,1372.3 1472.4,1374.0 1473.4,1377.0 1474.4,1379.4 1475.4,1380.9 1476.4,1382.4 1477.4,1384.0 1478.4,1384.5 1479.4,1383.9 1480.4,1384.4 1481.4,1385.3 1482.4,1385.4 1483.4,1385.6 1484.4,1385.8 1485.4,1385.7 1486.4,1384.6 1487.4,1383.9 1488.4,1382.6 1489.4,1381.2 1490.4,1379.1 1491.4,1376.6 1492.4,1374.2 1493.4,1371.7 1494.4,1369.5 1495.4,1367.3 1496.4,1364.0 1497.4,1360.2 1498.4,1358.9 1499.4,1357.0 1500.4,1354.0 1501.4,1350.2 1502.4,1348.3 1503.4,1350.1 1504.4,1358.9 1505.4,1369.0 1506.4,1374.2 1507.4,1377.4 1508.4,1379.9 1509.4,1381.9 1510.4,1382.8 1511.4,1384.1 1512.4,1384.7 1513.4,1385.3 1514.4,1385.3 1515.4,1385.6 1516.4,1385.4 1517.4,1385.4 1518.4,1386.4 1519.4,1386.7 1520.4,1386.7 1521.4,1386.7 1522.4,1386.2 1523.4,1386.7 1524.4,1387.0 1525.4,1388.2 1526.4,1388.7 1527.4,1388.7 1528.4,1389.2 1529.4,1388.9 1530.4,1388.8 1531.4,1388.7 1532.4,1388.6 1533.4,1388.7 1534.4,1389.0 1535.4,1388.6 1536.4,1388.7 1537.4,1388.9 1538.4,1388.8 1539.4,1387.8 1540.4,1387.4 1541.4,1387.0 1542.4,1387.1 1543.4,1387.1 1544.4,1386.9 1545.4,1386.9 1546.4,1386.9 1547.4,1387.3 1548.4,1386.9 1549.4,1387.3 1550.4,1386.9 1551.4,1387.2 1552.4,1387.3 1553.4,1387.0 1554.4,1387.4 1555.4,1387.3 1556.4,1387.2 1557.4,1386.9 1558.4,1387.4 1559.4,1387.7 1560.4,1388.2 1561.4,1388.9 1562.4,1389.1 1563.4,1388.5 1564.4,1388.1 1565.4,1387.5 1566.4,1387.1 1567.4,1386.8 1568.4,1387.3 1569.4,1386.9 1570.4,1387.3 1571.4,1387.2 1572.4,1386.9 1573.4,1386.1 1574.4,1385.0 1575.4,1385.4 1576.4,1385.0 1577.4,1384.8 1578.4,1384.9 1579.4,1385.0 1580.4,1384.6 1581.4,1384.8 1582.4,1384.8 1583.4,1384.3 1584.4,1383.9 1585.4,1383.3 1586.4,1383.0 1587.4,1381.6 1588.4,1381.1 1589.4,1380.4 1590.4,1379.4 1591.4,1379.6 1592.4,1379.0 1593.4,1379.5 1594.4,1379.4 1595.4,1379.3 1596.4,1379.3 1597.4,1379.0 1598.4,1379.0 1599.4,1378.9 1600.4,1379.5 1601.4,1379.2 1602.4,1379.7 1603.4,1380.6 1604.4,1380.7 1605.4,1380.9 1606.4,1381.3 1607.4,1381.4 1608.4,1382.1 1609.4,1382.5 1610.4,1383.4 1611.4,1383.4 1612.4,1384.2 1613.4,1384.8 1614.4,1385.4 1615.4,1385.6 1616.4,1386.3 1617.4,1387.0 1618.4,1387.1 1619.4,1387.6 1620.4,1387.9 1621.4,1387.4 1622.4,1385.8 1623.4,1386.2 1624.4,1386.9 1625.4,1386.4 1626.4,1386.1 1627.4,1385.6 1628.4,1385.2 1629.4,1385.0 1630.4,1383.9 1631.4,1383.2 1632.4,1383.4 1633.4,1383.1 1634.4,1382.7 1635.4,1383.1 1636.4,1383.1 1637.4,1383.0 1638.4,1383.0 1639.4,1382.3 1640.4,1381.2 1641.4,1380.6 1642.4,1380.0 1643.4,1380.2 1644.4,1380.5 1645.4,1381.4 1646.4,1382.6 1647.4,1383.6 1648.4,1384.4 1649.4,1384.8 1650.4,1385.3 1651.4,1385.0 1652.4,1385.1 1653.4,1385.2 1654.4,1384.8 1655.4,1384.4 1656.4,1383.8 1657.4,1382.1 1658.4,1380.7 1659.4,1377.6 1660.4,1375.0 1661.4,1371.2 1662.4,1366.8 1663.4,1362.3 1664.4,1357.9 1665.4,1353.0 1666.4,1347.1 1667.4,1341.8 1668.4,1338.2 1669.4,1332.6 1670.4,1328.7 1671.4,1325.6 1672.4,1325.8 1673.4,1325.4 1674.4,1325.5 1675.4,1326.0 1676.4,1325.9 1677.4,1323.9 1678.4,1322.2 1679.4,1320.2 1680.4,1318.4 1681.4,1316.4 1682.4,1315.0 1683.4,1314.4 1684.4,1313.6 1685.4,1313.6 1686.4,1314.2 1687.4,1315.0 1688.4,1315.8 1689.4,1317.2 1690.4,1319.8 1691.4,1322.7 1692.4,1324.9 1693.4,1327.5 1694.4,1330.2 1695.4,1331.6 1696.4,1333.5 1697.4,1334.5 1698.4,1336.1 1699.4,1337.8 1700.4,1339.8 1701.4,1343.4 1702.4,1346.9 1703.4,1351.0 1704.4,1354.5 1705.4,1356.6 1706.4,1359.0 1707.4,1360.1 1708.4,1360.3 1709.4,1360.9 1710.4,1360.7 1711.4,1360.8 1712.4,1360.8 1713.4,1360.2 1714.4,1359.5 1715.4,1358.2 1716.4,1358.0 1717.4,1357.3 1718.4,1357.4 1719.4,1356.9 1720.4,1357.5 1721.4,1357.2 1722.4,1358.5 1723.4,1359.7 1724.4,1361.6 1725.4,1362.6 1726.4,1364.3 1727.4,1365.7 1728.4,1366.9 1729.4,1367.8 1730.4,1369.2 1731.4,1370.3 1732.4,1370.8 1733.4,1371.9 1734.4,1372.1 1735.4,1372.6 1736.4,1373.2 1737.4,1374.1 1738.4,1374.4 1739.4,1374.8 1740.4,1375.0 1741.4,1375.6 1742.4,1375.5 1743.4,1375.5 1744.4,1375.8 1745.4,1375.7 1746.4,1375.6 1747.4,1375.9 1748.4,1376.1 1749.4,1376.2 1750.4,1376.2 1751.4,1375.9 1752.4,1375.7 1753.4,1376.3 1754.4,1376.0 1755.4,1376.4 1756.4,1377.6 1757.4,1378.3 1758.4,1379.4 1759.4,1379.9 1760.4,1380.8 1761.4,1380.7 1762.4,1381.6 1763.4,1381.6 1764.4,1381.9 1765.4,1381.6 1766.4,1381.5 1767.4,1381.4 1768.4,1381.0 1769.4,1380.9 1770.4,1379.9 1771.4,1379.8 1772.4,1380.0 1773.4,1379.7 1774.4,1379.6 1775.4,1379.8 1776.4,1380.4 1777.4,1380.9 1778.4,1382.6 1779.4,1383.9 1780.4,1384.7 1781.4,1386.1 1782.4,1386.6 1783.4,1386.7 1784.4,1387.2 1785.4,1386.8 1786.4,1387.2 1787.4,1387.2 1788.4,1386.7 1789.4,1387.3 1790.4,1387.0 1791.4,1387.0 1792.4,1387.4 1793.4,1387.0 1794.4,1386.9 1795.4,1386.8 1796.4,1387.6 1797.4,1387.9 1798.4,1388.6 1799.4,1388.8 1800.4,1389.2 1801.4,1389.3 1802.4,1389.4 1803.4,1389.3 1804.4,1390.1 1805.4,1390.3 1806.4,1390.4 1807.4,1390.8 1808.4,1390.3 1809.4,1391.0 1810.4,1390.5 1811.4,1390.6 1812.4,1390.4 1813.4,1390.2 1814.4,1390.0 1815.4,1390.1 1816.4,1389.7 1817.4,1390.2 1818.4,1390.5 1819.4,1391.2 1820.4,1391.1 1821.4,1391.3 1822.4,1391.9 1823.4,1391.7 1824.4,1391.9 1825.4,1392.2 1826.4,1392.2 1827.4,1392.7 1828.4,1392.4 1829.4,1392.6 1830.4,1392.6 1831.4,1392.7 1832.4,1392.7 1833.4,1392.5 1834.4,1392.8 1835.4,1392.5 1836.4,1392.2 1837.4,1391.8 1838.4,1391.3 1839.4,1391.0 1840.4,1391.0 1841.4,1390.6 1842.4,1390.7 1843.4,1390.5 1844.4,1390.6 1845.4,1390.6 1846.4,1391.2 1847.4,1391.0 1848.4,1391.2 1849.4,1391.3 1850.4,1391.3 1851.4,1391.3 1852.4,1391.0 1853.4,1390.5 1854.4,1390.7 1855.4,1389.2 1856.4,1388.6 1857.4,1388.4 1858.4,1388.0 1859.4,1387.6 1860.4,1387.5 1861.4,1386.5 1862.4,1385.6 1863.4,1384.7 1864.4,1383.4 1865.4,1379.9 1866.4,1373.8 1867.4,1372.2 1868.4,1373.0 1869.4,1378.8 1870.4,1383.8 1871.4,1386.3 1872.4,1388.6 1873.4,1389.1 1874.4,1390.1 1875.4,1390.9 1876.4,1391.6 1877.4,1391.5 1878.4,1392.1 1879.4,1392.7 1880.4,1393.0 1880.5,1393.2" fill="none" stroke="#ff0000" stroke-width="2" stroke-linejoin="round" shape-rendering="crispEdges"/>
<polyline points="257.5,1798.9 258.5,1798.9 259.5,1798.9 260.5,1798.9 261.5,1798.9 262.5,1798.9 263.5,1798.9 264.5,1798.9 265.5,1798.9 266.5,1798.9 267.5,1798.9 268.5,1798.9 269.5,1798.9 270.5,1798.9 271.5,1798.9 272.5,1798.9 273.5,1798.9 274.5,1798.9 275.5,1798.9 276.5,1798.9 277.5,1798.9 278.5,1798.9 279.5,1798.9 280.5,1798.9 281.5,1798.9 282.5,1798.9 283.5,1798.9 284.5,1798.9 285.5,1798.9 286.5,1798.9 287.5,1798.9 288.5,1798.9 289.5,1798.9 290.5,1798.9 291.5,1798.9 292.5,1798.9 293.5,1798.9 294.5,1798.9 295.5,1798.9 296.5,1798.9 297.5,1798.9 298.5,1798.9 299.5,1798.9 300.5,1798.9 301.5,1798.9 302.5,1798.9 303.5,1798.9 304.5,1798.9 305.5,1798.9 306.5,1798.9 307.5,1798.9 308.5,1798.9 309.5,1798.9 310.5,1798.9 311.5,1798.9 312.5,1798.9 313.5,1798.9 314.5,1798.9 315.5,1798.9 316.5,1798.9 317.5,1798.9 318.5,1798.9 319.5,1798.9 320.5,1798.9 321.5,1798.9 322.5,1798.9 323.5,1798.9 324.5,1798.9 325.5,1798.9 326.5,1798.9 327.5,1798.9 328.5,1798.9 329.5,1798.9 330.5,1798.9 331.5,1798.9 332.5,1798.9 333.5,1798.9 334.5,1798.9 335.5,1798.9 336.5,1798.9 337.5,1798.9 338.5,1798.9 339.5,1798.9 340.5,1798.9 341.5,1798.9 342.5,1798.9 343.5,1798.9 344.5,1798.9 345.5,1798.9 346.5,1798.9 347.5,1798.9 348.5,1798.9 349.5,1798.9 350.5,1798.9 351.5,1798.9 352.5,1798.9 353.5,1798.9 354.5,1798.9 355.5,1798.9 356.5,1798.9 357.5,1798.9 358.5,1798.9 359.5,1798.9 360.5,1798.9 361.5,1798.9 362.5,1798.9 363.5,1798.9 364.5,1798.9 365.5,1798.9 366.5,1798.9 367.5,1798.9 368.5,1798.9 369.5,1798.9 370.5,1798.9 371.5,1798.9 372.5,1798.9 373.5,1798.9 374.5,1798.9 375.5,1798.9 376.5,1798.9 377.5,1798.9 378.5,1798.9 379.5,1798.9 380.5,1798.9 381.5,1798.9 382.5,1798.9 383.5,1798.9 384.5,1798.9 385.5,1798.9 386.5,1798.9 387.5,1798.9 388.5,1798.9 389.5,1798.9 390.5,1798.9 391.5,1798.9 392.5,1798.9 393.5,1798.9 394.5,1798.9 395.5,1798.9 396.5,1798.9 397.5,1798.9 398.5,1798.9 399.5,1798.9 400.5,1798.9 401.5,1798.9 402.5,1798.9 403.5,1798.9 404.5,1798.9 405.5,1798.9 406.5,1798.9 407.5,1798.9 408.5,1798.9 409.5,1798.9 410.5,1798.9 411.5,1798.9 412.5,1798.9 413.5,1798.9 414.5,1798.9 415.5,1798.9 416.5,1798.9 417.5,1798.9 418.5,1798.9 419.5,1798.9 420.5,1798.9 421.5,1798.9 422.5,1798.9 423.5,1798.9 424.5,1798.9 425.5,1798.9 426.5,1798.9 427.5,1798.9 428.5,1798.9 429.5,1798.9 430.5,1798.9 431.5,1798.9 432.5,1798.9 433.5,1798.9 434.5,1798.9 435.5,1798.9 436.5,1798.9 437.5,1798.9 438.5,1798.9 439.5,1798.9 440.5,1798.9 441.5,1798.9 442.5,1798.9 443.5,1798.9 444.5,1798.9 445.5,1798.9 446.5,1798.9 447.5,1798.9 448.5,1798.9 449.5,1798.9 450.5,1798.9 451.5,1798.9 452.5,1798.9 453.5,1798.9 454.5,1798.9 455.5,1798.9 456.5,1798.9 457.5,1798.9 458.5,1798.9 459.5,1798.9 460.5,1798.9 461.5,1798.9 462.5,1798.9 463.5,1798.9 464.5,1798.9 465.5,1798.9 466.5,1798.9 467.5,1798.9 468.5,1798.9 469.5,1798.9 470.5,1798.9 471.5,1798.9 472.5,1798.9 473.5,1798.9 474.5,1798.9 475.5,1798.9 476.5,1798.9 477.5,1798.9 478.5,1798.9 479.5,1798.9 480.5,1798.9 481.5,1798.9 482.5,1798.9 483.5,1798.9 484.5,1798.9 485.5,1798.9 486.5,1798.9 487.5,1798.9 488.5,1798.9 489.5,1798.9 490.5,1798.9 491.5,1798.9 492.5,1798.9 493.5,1798.9 494.5,1798.9 495.5,1798.9 496.5,1798.9 497.5,1798.9 498.5,1798.9 499.5,1798.9 500.5,1798.9 501.5,1798.9 502.5,1798.9 503.5,1798.9 504.5,1798.9 505.5,1798.9 506.5,1798.9 507.5,1798.9 508.5,1798.9 509.5,1798.9 510.5,1798.9 511.5,1798.9 512.5,1798.9 513.5,1798.9 514.5,1798.9 515.5,1798.9 516.5,1798.9 517.5,1798.9 518.5,1798.9 519.5,1798.9 520.5,1798.9 521.5,1798.9 522.5,1798.9 523.5,1798.9 524.5,1798.9 525.5,1798.9 526.5,1798.9 527.5,1798.9 528.5,1798.9 529.5,1798.9 530.5,1798.9 531.5,1798.9 532.5,1798.9 533.5,1798.9 534.5,1798.9 535.5,1798.9 536.5,1798.9 537.5,1798.9 538.5,1798.9 539.5,1798.9 540.5,1798.9 541.5,1798.9 542.5,1798.9 543.5,1798.9 544.5,1798.9 545.5,1798.9 546.5,1798.9 547.5,1798.9 548.5,1798.9 549.5,1798.9 550.5,1798.9 551.5,1798.9 552.5,1798.9 553.5,1798.9 554.5,1798.9 555.5,1798.9 556.5,1798.9 557.5,1798.9 558.5,1798.9 559.5,1798.9 560.5,1798.9 561.5,1798.9 562.5,1798.9 563.5,1798.9 564.5,1798.9 565.5,1798.9 566.5,1798.9 567.5,1798.9 568.5,1798.9 569.5,1798.9 570.5,1798.9 571.5,1798.9 572.5,1798.9 573.5,1798.9 574.5,1798.9 575.5,1798.9 576.5,1798.9 577.5,1798.9 578.5,1798.9 579.5,1798.9 580.5,1798.9 581.5,1798.9 582.5,1798.9 583.5,1798.9 584.5,1798.9 585.5,1798.9 586.5,1798.9 587.5,1798.9 588.5,1798.9 589.5,1798.9 590.5,1798.9 591.5,1798.9 592.5,1798.9 593.5,1798.9 594.5,1798.9 595.5,1798.9 596.5,1798.9 597.5,1798.9 598.5,1798.9 599.5,1798.9 600.5,1798.9 601.5,1798.9 602.5,1798.9 603.5,1798.9 604.5,1798.9 605.5,1798.9 606.5,1798.9 607.5,1798.9 608.5,1798.9 609.5,1798.9 610.5,1798.9 611.5,1798.9 612.5,1798.9 613.5,1798.9 614.5,1798.9 615.5,1798.9 616.5,1798.9 617.5,1798.9 618.5,1798.9 619.5,1798.9 620.5,1798.9 621.5,1798.9 622.5,1798.9 623.5,1798.9 624.5,1798.9 625.5,1798.9 626.5,1798.9 627.5,1798.9 628.5,1798.9 629.5,1798.9 630.5,1798.9 631.5,1798.9 632.5,1798.9 633.5,1798.9 634.5,1798.9 635.5,1798.9 636.5,1798.9 637.5,1798.9 638.5,1798.9 639.5,1798.9 640.5,1798.9 641.5,1798.9 642.5,1798.9 643.5,1798.9 644.5,1798.9 645.5,1798.9 646.5,1798.9 647.5,1798.9 648.5,1798.9 649.5,1798.9 650.5,1798.9 651.5,1798.9 652.5,1798.9 653.5,1798.9 654.5,1798.9 655.5,1798.9 656.5,1798.9 657.5,1798.9 658.5,1798.9 659.5,1798.9 660.5,1798.9 661.5,1798.9 662.5,1798.9 663.5,1798.9 664.5,1798.9 665.5,1798.9 666.5,1798.9 667.5,1798.9 668.5,1798.9 669.5,1798.9 670.5,1798.9 671.5,1798.9 672.5,1798.9 673.5,1798.9 674.5,1798.9 675.5,1798.9 676.5,1798.9 677.5,1798.9 678.5,1798.9 679.5,1798.9 680.5,1798.9 681.5,1798.9 682.5,1798.9 683.5,1798.9 684.5,1798.9 685.5,1798.9 686.5,1798.9 687.5,1798.9 688.5,1798.9 689.5,1798.9 690.5,1798.9 691.5,1798.9 692.5,1798.9 693.5,1798.9 694.5,1798.9 695.5,1798.9 696.5,1798.9 697.5,1798.9 698.5,1798.9 699.5,1798.9 700.5,1798.9 701.5,1798.9 702.5,1798.9 703.5,1798.9 704.5,1798.9 705.5,1798.9 706.5,1798.9 707.5,1798.9 708.5,1798.9 709.5,1798.9 710.5,1798.9 711.5,1798.9 712.5,1798.9 713.5,1798.9 714.5,1798.9 715.5,1798.9 716.5,1798.9 717.5,1798.9 718.5,1798.9 719.5,1798.9 720.5,1798.9 721.5,1798.9 722.5,1798.9 723.5,1798.9 724.5,1798.9 725.5,1798.9 726.5,1798.9 727.5,1798.9 728.5,1798.9 729.5,1798.9 730.5,1798.9 731.5,1798.9 732.5,1798.9 733.5,1798.9 734.5,1798.9 735.5,1798.9 736.5,1798.9 737.5,1798.9 738.5,1798.9 739.5,1798.9 740.5,1798.9 741.5,1798.9 742.5,1798.9 743.5,1798.9 744.5,1798.9 745.5,1798.9 746.5,1798.9 747.5,1798.9 748.5,1798.9 749.5,1798.9 750.5,1798.9 751.5,1798.9 752.5,1798.9 753.5,1798.9 754.5,1798.9 755.5,1798.9 756.5,1798.9 757.5,1798.9 758.5,1798.9 759.5,1798.9 760.5,1798.9 761.5,1798.9 762.5,1798.9 763.5,1798.9 764.5,1798.9 765.5,1798.9 766.5,1798.9 767.5,1798.9 768.5,1798.9 769.5,1798.9 770.5,1798.9 771.5,1798.9 772.5,1798.9 773.5,1798.9 774.5,1798.9 775.5,1798.9 776.5,1798.9 777.5,1798.9 778.5,1798.9 779.5,1798.9 780.5,1798.9 781.5,1798.8 782.5,1798.7 783.5,1798.6 784.5,1798.5 785.5,1798.3 786.5,1798.1 787.5,1797.8 788.5,1797.5 789.5,1797.0 790.5,1796.4 791.5,1795.5 792.5,1794.4 793.5,1793.0 794.5,1791.3 795.5,1789.1 796.5,1786.4 797.5,1783.1 798.5,1778.8 799.5,1773.6 800.5,1767.7 801.5,1760.3 802.5,1749.6 803.5,1736.1 804.5,1721.6 805.5,1708.6 806.5,1696.1 807.5,1681.3 808.5,1669.3 809.5,1659.4 810.5,1651.4 811.5,1644.4 812.5,1638.8 813.5,1633.9 814.5,1630.4 815.5,1628.7 816.5,1627.7 817.5,1628.1 818.5,1629.4 819.5,1630.8 820.5,1632.2 821.5,1633.8 822.5,1634.8 823.5,1634.6 824.5,1633.4 825.5,1631.6 826.5,1628.8 827.5,1624.0 828.5,1618.0 829.5,1609.2 830.5,1599.7 831.5,1591.2 832.5,1583.8 833.5,1577.5 834.5,1572.5 835.5,1569.4 836.5,1567.4 837.5,1567.3 838.5,1567.3 839.5,1568.3 840.5,1572.2 841.5,1577.7 842.5,1586.3 843.5,1596.6 844.5,1609.2 845.5,1621.3 846.5,1633.3 847.5,1645.4 848.5,1657.7 849.5,1669.0 850.5,1679.9 851.5,1686.7 852.5,1691.2 853.5,1691.6 854.5,1690.4 855.5,1687.5 856.5,1679.4 857.5,1669.4 858.5,1656.5 859.5,1640.2 860.5,1618.8 861.5,1596.3 862.5,1573.1 863.5,1550.3 864.5,1528.0 865.5,1506.6 866.5,1485.5 867.5,1467.9 868.5,1453.7 869.5,1443.3 870.5,1435.4 871.5,1431.9 872.5,1431.1 873.5,1432.9 874.5,1437.2 875.5,1447.8 876.5,1460.6 877.5,1476.7 878.5,1494.6 879.5,1514.6 880.5,1535.7 881.5,1558.0 882.5,1579.5 883.5,1599.5 884.5,1619.4 885.5,1640.0 886.5,1658.9 887.5,1675.8 888.5,1690.2 889.5,1702.3 890.5,1712.4 891.5,1720.2 892.5,1726.6 893.5,1731.6 894.5,1735.3 895.5,1738.4 896.5,1740.6 897.5,1742.2 898.5,1743.5 899.5,1744.4 900.5,1745.1 901.5,1745.8 902.5,1746.2 903.5,1746.3 904.5,1746.1 905.5,1745.9 906.5,1745.5 907.5,1745.1 908.5,1744.5 909.5,1743.8 910.5,1743.3 911.5,1742.8 912.5,1742.4 913.5,1742.1 914.5,1742.0 915.5,1741.9 916.5,1741.8 917.5,1741.7 918.5,1741.5 919.5,1741.4 920.5,1741.0 921.5,1740.5 922.5,1740.0 923.5,1739.6 924.5,1739.3 925.5,1739.1 926.5,1739.2 927.5,1740.1 928.5,1741.4 929.5,1743.5 930.5,1746.6 931.5,1750.1 932.5,1754.1 933.5,1758.5 934.5,1763.5 935.5,1768.6 936.5,1773.2 937.5,1777.5 938.5,1781.2 939.5,1784.6 940.5,1787.6 941.5,1790.0 942.5,1792.1 943.5,1793.8 944.5,1795.0 945.5,1795.9 946.5,1796.7 947.5,1797.3 948.5,1797.7 949.5,1797.9 950.5,1798.1 951.5,1798.3 952.5,1798.4 953.5,1798.5 954.5,1798.5 955.5,1798.5 956.5,1798.5 957.5,1798.5 958.5,1798.5 959.5,1798.5 960.5,1798.5 961.5,1798.5 962.5,1798.5 963.5,1798.4 964.5,1798.1 965.5,1797.8 966.5,1797.7 967.5,1797.7 968.5,1797.7 969.5,1797.7 970.5,1797.7 971.5,1797.7 972.5,1797.7 973.5,1797.7 974.5,1797.7 975.5,1797.7 976.5,1797.7 977.5,1797.7 978.5,1797.7 979.5,1797.7 980.5,1797.7 981.5,1797.7 982.5,1797.7 983.5,1797.7 984.5,1797.7 985.5,1797.6 986.5,1797.6 987.5,1797.6 988.5,1797.6 989.5,1797.5 990.5,1797.5 991.5,1797.5 992.5,1797.4 993.5,1797.4 994.5,1797.4 995.5,1797.3 996.5,1797.3 997.5,1797.3 998.5,1797.2 999.5,1797.2 1000.5,1797.2 1001.5,1797.1 1002.5,1797.1 1003.5,1797.0 1004.5,1797.0 1005.5,1796.9 1006.5,1796.9 1007.5,1796.8 1008.5,1796.8 1009.5,1796.7 1010.5,1796.7 1011.5,1796.6 1012.5,1796.5 1013.5,1796.5 1014.5,1796.4 1015.5,1796.3 1016.5,1796.3 1017.5,1796.2 1018.5,1796.1 1019.5,1796.1 1020.5,1796.0 1021.5,1795.9 1022.5,1795.8 1023.5,1795.8 1024.5,1795.7 1025.5,1795.6 1026.5,1795.6 1027.5,1795.5 1028.5,1795.4 1029.5,1795.4 1030.5,1795.3 1031.5,1795.2 1032.5,1795.2 1033.5,1795.1 1034.5,1795.0 1035.5,1795.0 1036.5,1794.9 1037.5,1794.8 1038.5,1794.8 1039.5,1794.7 1040.5,1794.6 1041.5,1794.6 1042.5,1794.5 1043.5,1794.5 1044.5,1794.4 1045.5,1794.4 1046.5,1794.3 1047.5,1794.3 1048.5,1794.2 1049.5,1794.2 1050.5,1794.1 1051.5,1794.1 1052.5,1794.0 1053.5,1794.0 1054.5,1794.0 1055.5,1793.9 1056.5,1793.9 1057.5,1793.9 1058.5,1793.8 1059.5,1793.8 1060.5,1793.8 1061.5,1793.7 1062.5,1793.7 1063.5,1793.7 1064.5,1793.7 1065.5,1793.6 1066.5,1793.6 1067.5,1793.6 1068.5,1793.6 1069.5,1793.5 1070.5,1793.5 1071.5,1793.5 1072.5,1793.4 1073.5,1793.4 1074.5,1793.3 1075.5,1793.3 1076.5,1793.2 1077.5,1793.1 1078.5,1793.1 1079.5,1793.0 1080.5,1792.9 1081.5,1792.8 1082.5,1792.7 1083.5,1792.6 1084.5,1792.5 1085.5,1792.4 1086.5,1792.2 1087.5,1792.1 1088.5,1792.0 1089.5,1791.8 1090.5,1791.6 1091.5,1791.5 1092.5,1791.3 1093.5,1791.1 1094.5,1790.9 1095.5,1790.6 1096.5,1790.4 1097.5,1790.2 1098.5,1789.9 1099.5,1789.6 1100.5,1789.3 1101.5,1789.0 1102.5,1788.7 1103.5,1788.3 1104.5,1788.0 1105.5,1787.6 1106.5,1787.2 1107.5,1786.7 1108.5,1786.3 1109.5,1785.8 1110.5,1785.3 1111.5,1784.8 1112.5,1784.3 1113.5,1783.7 1114.5,1783.2 1115.5,1782.5 1116.5,1781.9 1117.5,1781.3 1118.5,1780.6 1119.5,1779.9 1120.5,1779.2 1121.5,1778.4 1122.5,1777.6 1123.5,1776.8 1124.5,1776.0 1125.5,1775.2 1126.5,1774.3 1127.5,1773.4 1128.5,1772.4 1129.5,1771.5 1130.5,1770.5 1131.5,1769.5 1132.5,1768.5 1133.5,1767.4 1134.5,1766.4 1135.5,1765.3 1136.5,1764.2 1137.5,1763.1 1138.5,1761.9 1139.5,1760.8 1140.5,1759.6 1141.5,1758.5 1142.5,1757.3 1143.5,1756.1 1144.5,1754.9 1145.5,1753.8 1146.5,1752.6 1147.5,1751.4 1148.5,1750.2 1149.5,1749.0 1150.5,1747.8 1151.5,1746.6 1152.5,1745.5 1153.5,1744.3 1154.5,1743.1 1155.5,1742.0 1156.5,1740.9 1157.5,1739.8 1158.5,1738.7 1159.5,1737.7 1160.5,1736.6 1161.5,1735.7 1162.5,1734.7 1163.5,1733.8 1164.5,1732.9 1165.5,1732.1 1166.5,1731.3 1167.5,1730.5 1168.5,1729.8 1169.5,1729.1 1170.5,1728.5 1171.5,1727.9 1172.5,1727.3 1173.5,1726.8 1174.5,1726.3 1175.5,1725.9 1176.5,1725.5 1177.5,1725.1 1178.5,1724.8 1179.5,1724.5 1180.5,1724.2 1181.5,1724.0 1182.5,1723.9 1183.5,1723.7 1184.5,1723.6 1185.5,1723.6 1186.5,1723.6 1187.5,1723.6 1188.5,1723.6 1189.5,1723.7 1190.5,1723.9 1191.5,1724.1 1192.5,1724.3 1193.5,1724.6 1194.5,1724.9 1195.5,1725.2 1196.5,1725.6 1197.5,1726.1 1198.5,1726.6 1199.5,1727.1 1200.5,1727.7 1201.5,1728.3 1202.5,1729.0 1203.5,1729.7 1204.5,1730.4 1205.5,1731.2 1206.5,1732.0 1207.5,1732.9 1208.5,1733.7 1209.5,1734.6 1210.5,1735.6 1211.5,1736.5 1212.5,1737.5 1213.5,1738.6 1214.5,1739.6 1215.5,1740.7 1216.5,1741.8 1217.5,1742.9 1218.5,1744.1 1219.5,1745.2 1220.5,1746.4 1221.5,1747.6 1222.5,1748.8 1223.5,1750.0 1224.5,1751.2 1225.5,1752.5 1226.5,1753.7 1227.5,1754.9 1228.5,1756.1 1229.5,1757.4 1230.5,1758.6 1231.5,1759.8 1232.5,1761.0 1233.5,1762.1 1234.5,1763.3 1235.5,1764.4 1236.5,1765.5 1237.5,1766.7 1238.5,1767.7 1239.5,1768.8 1240.5,1769.9 1241.5,1770.9 1242.5,1771.9 1243.5,1772.9 1244.5,1773.9 1245.5,1774.8 1246.5,1775.7 1247.5,1776.7 1248.5,1777.5 1249.5,1778.4 1250.5,1779.2 1251.5,1780.1 1252.5,1780.9 1253.5,1781.6 1254.5,1782.4 1255.5,1783.1 1256.5,1783.8 1257.5,1784.5 1258.5,1785.1 1259.5,1785.7 1260.5,1786.3 1261.5,1786.9 1262.5,1787.5 1263.5,1788.0 1264.5,1788.5 1265.5,1789.0 1266.5,1789.5 1267.5,1789.9 1268.5,1790.3 1269.5,1790.7 1270.5,1791.1 1271.5,1791.5 1272.5,1791.8 1273.5,1792.2 1274.5,1792.5 1275.5,1792.8 1276.5,1793.1 1277.5,1793.4 1278.5,1793.7 1279.5,1793.9 1280.5,1794.2 1281.5,1794.4 1282.5,1794.7 1283.5,1794.9 1284.5,1795.1 1285.5,1795.3 1286.5,1795.5 1287.5,1795.7 1288.5,1795.9 1289.5,1796.0 1290.5,1796.2 1291.5,1796.3 1292.5,1796.5 1293.5,1796.6 1294.5,1796.7 1295.5,1796.8 1296.5,1796.9 1297.5,1797.0 1298.5,1797.1 1299.5,1797.1 1300.5,1797.2 1301.5,1797.3 1302.5,1797.3 1303.5,1797.4 1304.5,1797.4 1305.5,1797.5 1306.5,1797.5 1307.5,1797.5 1308.5,1797.6 1309.5,1797.6 1310.5,1797.6 1311.5,1797.7 1312.5,1797.7 1313.5,1797.7 1314.5,1797.8 1315.5,1797.8 1316.5,1797.9 1317.5,1797.9 1318.5,1797.9 1319.5,1798.0 1320.5,1798.0 1321.5,1798.1 1322.5,1798.1 1323.5,1798.1 1324.5,1798.2 1325.5,1798.2 1326.5,1798.3 1327.5,1798.3 1328.5,1798.4 1329.5,1798.4 1330.5,1798.5 1331.5,1798.5 1332.5,1798.6 1333.5,1798.6 1334.5,1798.6 1335.5,1798.6 1336.5,1798.7 1337.5,1798.7 1338.5,1798.7 1339.5,1798.7 1340.5,1798.7 1341.5,1798.7 1342.5,1798.7 1343.5,1798.7 1344.5,1798.7 1345.5,1798.7 1346.5,1798.7 1347.5,1798.7 1348.5,1798.7 1349.5,1798.7 1350.5,1798.7 1351.5,1798.7 1352.5,1798.7 1353.5,1798.7 1354.5,1798.7 1355.5,1798.7 1356.5,1798.7 1357.5,1798.7 1358.5,1798.7 1359.5,1798.7 1360.5,1798.7 1361.5,1798.7 1362.5,1798.7 1363.5,1798.7 1364.5,1798.7 1365.5,1798.7 1366.5,1798.7 1367.5,1798.7 1368.5,1798.7 1369.5,1798.7 1370.5,1798.7 1371.5,1798.7 1372.5,1798.7 1373.5,1798.7 1374.5,1798.7 1375.5,1798.7 1376.5,1798.7 1377.5,1798.7 1378.5,1798.7 1379.0,1798.7" fill="none" stroke="#000000" stroke-width="2" stroke-linejoin="round" shape-rendering="crispEdges"/>
<polyline points="1407.4,1798.9 1408.4,1798.9 1409.4,1798.9 1410.4,1798.9 1411.4,1798.9 1412.4,1798.9 1413.4,1798.9 1414.4,1798.9 1415.4,1798.9 1416.4,1798.9 1417.4,1798.9 1418.4,1798.9 1419.4,1798.9 1420.4,1798.9 1421.4,1798.9 1422.4,1798.9 1423.4,1798.9 1424.4,1798.9 1425.4,1798.9 1426.4,1798.9 1427.4,1798.9 1428.4,1798.9 1429.4,1798.9 1430.4,1798.9 1431.4,1798.9 1432.4,1798.9 1433.4,1798.9 1434.4,1798.9 1435.4,1798.9 1436.4,1798.9 1437.4,1798.9 1438.4,1798.9 1439.4,1798.9 1440.4,1798.9 1441.4,1798.9 1442.4,1798.9 1443.4,1798.9 1444.4,1798.9 1445.4,1798.9 1446.4,1798.9 1447.4,1798.9 1448.4,1798.9 1449.4,1798.9 1450.4,1798.1 1451.4,1797.9 1452.4,1797.9 1453.4,1797.9 1454.4,1797.7 1455.4,1797.0 1456.4,1795.9 1457.4,1794.8 1458.4,1793.4 1459.4,1791.9 1460.4,1790.3 1461.4,1788.5 1462.4,1786.0 1463.4,1782.4 1464.4,1779.6 1465.4,1777.0 1466.4,1774.3 1467.4,1771.6 1468.4,1769.3 1469.4,1767.4 1470.4,1766.4 1471.4,1765.8 1472.4,1765.8 1473.4,1766.1 1474.4,1766.5 1475.4,1767.3 1476.4,1768.5 1477.4,1770.5 1478.4,1773.1 1479.4,1775.7 1480.4,1778.5 1481.4,1781.4 1482.4,1784.5 1483.4,1787.3 1484.4,1789.9 1485.4,1791.9 1486.4,1793.7 1487.4,1795.1 1488.4,1796.1 1489.4,1796.8 1490.4,1797.4 1491.4,1797.9 1492.4,1798.0 1493.4,1798.0 1494.4,1798.0 1495.4,1798.0 1496.4,1798.0 1497.4,1798.0 1498.4,1798.0 1499.4,1798.0 1500.4,1798.0 1501.4,1798.0 1502.4,1798.0 1503.4,1797.8 1504.4,1797.2 1505.4,1796.3 1506.4,1795.1 1507.4,1793.5 1508.4,1791.2 1509.4,1787.9 1510.4,1784.0 1511.4,1779.5 1512.4,1774.4 1513.4,1770.2 1514.4,1766.7 1515.4,1763.6 1516.4,1762.0 1517.4,1761.2 1518.4,1761.2 1519.4,1762.3 1520.4,1763.8 1521.4,1766.2 1522.4,1769.8 1523.4,1774.1 1524.4,1777.7 1525.4,1780.9 1526.4,1784.1 1527.4,1786.7 1528.4,1788.9 1529.4,1790.4 1530.4,1791.6 1531.4,1792.5 1532.4,1793.2 1533.4,1793.8 1534.4,1794.4 1535.4,1794.9 1536.4,1795.5 1537.4,1796.0 1538.4,1796.5 1539.4,1796.9 1540.4,1797.3 1541.4,1797.6 1542.4,1797.8 1543.4,1797.8 1544.4,1797.8 1545.4,1797.8 1546.4,1797.8 1547.4,1797.8 1548.4,1797.8 1549.4,1797.8 1550.4,1797.8 1551.4,1797.8 1552.4,1797.8 1553.4,1797.8 1554.4,1797.8 1555.4,1797.8 1556.4,1797.8 1557.4,1797.8 1558.4,1797.7 1559.4,1797.3 1560.4,1796.8 1561.4,1796.2 1562.4,1795.9 1563.4,1795.9 1564.4,1795.9 1565.4,1795.9 1566.4,1795.9 1567.4,1795.9 1568.4,1795.9 1569.4,1795.9 1570.4,1795.9 1571.4,1795.9 1572.4,1795.9 1573.4,1795.9 1574.4,1795.9 1575.4,1795.9 1576.4,1795.9 1577.4,1795.9 1578.4,1795.9 1579.4,1795.9 1580.4,1795.9 1581.4,1795.9 1582.4,1795.9 1583.4,1795.7 1584.4,1794.9 1585.4,1794.4 1586.4,1794.1 1587.4,1793.9 1588.4,1793.9 1589.4,1794.0 1590.4,1794.1 1591.4,1794.4 1592.4,1794.9 1593.4,1795.5 1594.4,1796.0 1595.4,1796.5 1596.4,1797.0 1597.4,1797.6 1598.4,1797.8 1599.4,1797.8 1600.4,1797.8 1601.4,1797.8 1602.4,1797.8 1603.4,1797.8 1604.4,1797.8 1605.4,1797.8 1606.4,1797.8 1607.4,1797.8 1608.4,1797.8 1609.4,1797.8 1610.4,1797.6 1611.4,1797.2 1612.4,1797.1 1613.4,1797.1 1614.4,1797.1 1615.4,1797.2 1616.4,1797.6 1617.4,1797.8 1618.4,1797.8 1619.4,1797.8 1620.4,1797.8 1621.4,1797.8 1622.4,1797.8 1623.4,1797.8 1624.4,1797.8 1625.4,1797.8 1626.4,1797.8 1627.4,1797.8 1628.4,1797.8 1629.4,1797.8 1630.4,1797.8 1631.4,1797.8 1632.4,1797.8 1633.4,1797.8 1634.4,1797.8 1635.4,1797.8 1636.4,1797.8 1637.4,1797.8 1638.4,1797.8 1639.4,1797.8 1640.4,1797.8 1641.4,1797.6 1642.4,1797.1 1643.4,1796.5 1644.4,1795.9 1645.4,1795.2 1646.4,1794.4 1647.4,1793.3 1648.4,1792.2 1649.4,1791.2 1650.4,1790.3 1651.4,1789.5 1652.4,1788.9 1653.4,1788.6 1654.4,1788.4 1655.4,1788.4 1656.4,1788.6 1657.4,1789.2 1658.4,1790.0 1659.4,1791.0 1660.4,1792.2 1661.4,1793.3 1662.4,1794.2 1663.4,1795.2 1664.4,1795.9 1665.4,1796.3 1666.4,1796.7 1667.4,1796.9 1668.4,1796.8 1669.4,1796.6 1670.4,1796.2 1671.4,1795.8 1672.4,1794.9 1673.4,1793.8 1674.4,1792.7 1675.4,1792.0 1676.4,1791.4 1677.4,1790.9 1678.4,1790.5 1679.4,1790.0 1680.4,1789.6 1681.4,1789.2 1682.4,1788.7 1683.4,1787.9 1684.4,1786.6 1685.4,1784.6 1686.4,1782.3 1687.4,1779.6 1688.4,1775.9 1689.4,1769.4 1690.4,1763.2 1691.4,1757.4 1692.4,1751.5 1693.4,1746.1 1694.4,1741.4 1695.4,1737.8 1696.4,1735.4 1697.4,1734.7 1698.4,1734.4 1699.4,1734.7 1700.4,1735.6 1701.4,1738.2 1702.4,1741.4 1703.4,1745.3 1704.4,1748.7 1705.4,1751.2 1706.4,1753.4 1707.4,1755.2 1708.4,1756.7 1709.4,1757.8 1710.4,1758.6 1711.4,1759.2 1712.4,1759.7 1713.4,1760.2 1714.4,1760.6 1715.4,1760.8 1716.4,1760.5 1717.4,1759.9 1718.4,1759.0 1719.4,1757.4 1720.4,1754.9 1721.4,1751.7 1722.4,1747.1 1723.4,1742.3 1724.4,1737.2 1725.4,1732.4 1726.4,1727.1 1727.4,1720.1 1728.4,1714.7 1729.4,1710.7 1730.4,1706.7 1731.4,1704.0 1732.4,1702.9 1733.4,1703.4 1734.4,1705.3 1735.4,1711.9 1736.4,1718.5 1737.4,1725.5 1738.4,1735.6 1739.4,1744.8 1740.4,1752.3 1741.4,1760.0 1742.4,1767.7 1743.4,1776.0 1744.4,1782.4 1745.4,1787.1 1746.4,1791.0 1747.4,1794.0 1748.4,1795.7 1749.4,1797.0 1750.4,1797.6 1751.4,1797.8 1752.4,1797.9 1753.4,1798.0 1754.4,1798.0 1755.4,1797.9 1756.4,1797.9 1757.4,1797.9 1758.4,1797.9 1759.4,1797.9 1760.4,1797.8 1761.4,1797.5 1762.4,1796.9 1763.4,1796.2 1764.4,1795.4 1765.4,1794.3 1766.4,1793.1 1767.4,1791.8 1768.4,1790.3 1769.4,1788.4 1770.4,1785.5 1771.4,1782.1 1772.4,1779.6 1773.4,1777.6 1774.4,1776.2 1775.4,1775.1 1776.4,1775.0 1777.4,1775.6 1778.4,1776.3 1779.4,1777.7 1780.4,1779.5 1781.4,1781.6 1782.4,1784.0 1783.4,1786.4 1784.4,1788.8 1785.4,1790.8 1786.4,1792.3 1787.4,1793.5 1788.4,1794.4 1789.4,1795.2 1790.4,1795.8 1791.4,1796.2 1792.4,1796.5 1793.4,1796.7 1794.4,1796.9 1795.4,1796.8 1796.4,1796.6 1797.4,1796.3 1798.4,1795.8 1799.4,1795.0 1800.4,1793.8 1801.4,1792.4 1802.4,1790.9 1803.4,1789.0 1804.4,1787.3 1805.4,1785.6 1806.4,1784.2 1807.4,1783.4 1808.4,1782.9 1809.4,1782.7 1810.4,1783.0 1811.4,1783.7 1812.4,1784.6 1813.4,1786.0 1814.4,1787.6 1815.4,1789.2 1816.4,1790.9 1817.4,1792.5 1818.4,1794.2 1819.4,1795.7 1820.4,1796.6 1821.4,1797.3 1822.4,1797.8 1823.4,1798.0 1824.4,1798.3 1825.4,1798.5 1826.4,1798.6 1827.4,1798.6 1828.4,1798.6 1829.4,1798.6 1830.4,1798.6 1831.4,1798.6 1832.4,1798.6 1833.4,1798.6 1834.4,1798.6 1835.4,1798.5 1836.4,1798.1 1837.4,1797.8 1838.4,1797.8 1839.4,1797.8 1840.4,1797.8 1841.4,1797.8 1842.4,1797.8 1843.4,1797.8 1844.4,1797.8 1845.4,1797.8 1846.4,1797.8 1847.4,1797.8 1848.4,1797.8 1849.4,1797.8 1850.4,1797.8 1851.4,1797.8 1852.4,1797.8 1853.4,1797.8 1854.4,1797.8 1855.4,1797.8 1856.4,1797.8 1857.4,1797.8 1858.4,1797.8 1859.4,1797.8 1860.4,1797.8 1861.4,1797.8 1862.4,1797.8 1863.4,1797.7 1864.4,1797.6 1865.4,1797.4 1866.4,1797.1 1867.4,1796.9 1868.4,1796.6 1869.4,1796.4 1870.4,1796.1 1871.4,1795.7 1872.4,1795.3 1873.4,1794.8 1874.4,1794.1 1875.4,1793.2 1876.4,1792.2 1877.4,1791.4 1878.4,1790.8 1879.4,1790.2 1880.4,1789.7 1880.5,1789.7" fill="none" stroke="#000000" stroke-width="2" stroke-linejoin="round" shape-rendering="crispEdges"/>
<g stroke="#000" fill="none" shape-rendering="crispEdges">
<line x1="257.0" y1="140.5" x2="257.0" y2="1893.1000000000001" stroke-width="4"/>
<line x1="245" y1="1890.7" x2="1379.5" y2="1890.7" stroke-width="4.8"/>
<line x1="1409" y1="1890.7" x2="1883" y2="1890.7" stroke-width="4.8"/>
<line x1="233" y1="1799.3" x2="257.0" y2="1799.3" stroke-width="4.6"/>
<line x1="233" y1="1615.2" x2="257.0" y2="1615.2" stroke-width="4.6"/>
<line x1="233" y1="1431.1" x2="257.0" y2="1431.1" stroke-width="4.6"/>
<line x1="233" y1="1247.0" x2="257.0" y2="1247.0" stroke-width="4.6"/>
<line x1="233" y1="1062.9" x2="257.0" y2="1062.9" stroke-width="4.6"/>
<line x1="233" y1="878.8" x2="257.0" y2="878.8" stroke-width="4.6"/>
<line x1="233" y1="694.7" x2="257.0" y2="694.7" stroke-width="4.6"/>
<line x1="233" y1="510.6" x2="257.0" y2="510.6" stroke-width="4.6"/>
<line x1="233" y1="326.5" x2="257.0" y2="326.5" stroke-width="4.6"/>
<line x1="233" y1="142.4" x2="257.0" y2="142.4" stroke-width="4.6"/>
<line x1="245" y1="1707.0" x2="257.0" y2="1707.0" stroke-width="4"/>
<line x1="245" y1="1522.8" x2="257.0" y2="1522.8" stroke-width="4"/>
<line x1="245" y1="1338.8" x2="257.0" y2="1338.8" stroke-width="4"/>
<line x1="245" y1="1154.7" x2="257.0" y2="1154.7" stroke-width="4"/>
<line x1="245" y1="970.6" x2="257.0" y2="970.6" stroke-width="4"/>
<line x1="245" y1="786.5" x2="257.0" y2="786.5" stroke-width="4"/>
<line x1="245" y1="602.4" x2="257.0" y2="602.4" stroke-width="4"/>
<line x1="245" y1="418.2" x2="257.0" y2="418.2" stroke-width="4"/>
<line x1="245" y1="234.2" x2="257.0" y2="234.2" stroke-width="4"/>
<line x1="412.1" y1="1890.7" x2="412.1" y2="1915" stroke-width="4"/>
<line x1="799.1" y1="1890.7" x2="799.1" y2="1915" stroke-width="4"/>
<line x1="1186.1" y1="1890.7" x2="1186.1" y2="1915" stroke-width="4"/>
<line x1="1435.0" y1="1890.7" x2="1435.0" y2="1915" stroke-width="4"/>
<line x1="1713.5" y1="1890.7" x2="1713.5" y2="1915" stroke-width="4"/>
<line x1="605.6" y1="1890.7" x2="605.6" y2="1904.6" stroke-width="4"/>
<line x1="992.6" y1="1890.7" x2="992.6" y2="1904.6" stroke-width="4"/>
<line x1="1574.2" y1="1890.7" x2="1574.2" y2="1904.6" stroke-width="4"/>
<line x1="1852.8" y1="1890.7" x2="1852.8" y2="1904.6" stroke-width="4"/>
</g>
<g stroke="#000" stroke-width="4.5" fill="none">
<line x1="1364.9" y1="1915.1" x2="1393.8" y2="1867"/>
<line x1="1393.0" y1="1915.1" x2="1421.9" y2="1867"/>
</g>
<g font-family="'Liberation Sans', sans-serif" fill="#000" stroke="#000" stroke-width="0.6" stroke-linejoin="round">
<text transform="translate(218.6,1810.0) scale(1,1.075)" font-size="44" text-anchor="end">0.0</text>
<text transform="translate(218.6,1625.9) scale(1,1.075)" font-size="44" text-anchor="end">0.5</text>
<text transform="translate(218.6,1441.8) scale(1,1.075)" font-size="44" text-anchor="end">1.0</text>
<text transform="translate(218.6,1257.7) scale(1,1.075)" font-size="44" text-anchor="end">1.5</text>
<text transform="translate(218.6,1073.6) scale(1,1.075)" font-size="44" text-anchor="end">2.0</text>
<text transform="translate(218.6,889.5) scale(1,1.075)" font-size="44" text-anchor="end">2.5</text>
<text transform="translate(218.6,705.4) scale(1,1.075)" font-size="44" text-anchor="end">3.0</text>
<text transform="translate(218.6,521.3) scale(1,1.075)" font-size="44" text-anchor="end">3.5</text>
<text transform="translate(218.6,337.2) scale(1,1.075)" font-size="44" text-anchor="end">4.0</text>
<text transform="translate(218.6,153.1) scale(1,1.075)" font-size="44" text-anchor="end">4.5</text>
<text transform="translate(412.1,1963.9) scale(1,1.075)" font-size="44" text-anchor="middle">3500</text>
<text transform="translate(798.6,1963.9) scale(1,1.075)" font-size="44" text-anchor="middle">3000</text>
<text transform="translate(1185.1,1963.9) scale(1,1.075)" font-size="44" text-anchor="middle">2500</text>
<text transform="translate(1435.0,1963.9) scale(1,1.075)" font-size="44" text-anchor="middle">1500</text>
<text transform="translate(1713.0,1963.9) scale(1,1.075)" font-size="44" text-anchor="middle">1000</text>
<text font-size="55.45"><tspan x="830.8" y="2062.3">Wavenumber [cm</tspan><tspan x="1262.8" y="2031.9" font-size="32">-1</tspan><tspan x="1292.7" y="2062.3">]</tspan></text>
<text transform="translate(95,1052) rotate(-90)" font-size="55.3" text-anchor="middle">Absorbance (offset)</text>
</g>
<rect x="1122" y="32" width="758" height="268" fill="#fff" stroke="#000" stroke-width="2" shape-rendering="crispEdges"/>
<g font-family="'Liberation Sans', sans-serif" fill="#000" stroke="#000" stroke-width="0.6" stroke-linejoin="round" font-size="55.4">
<line x1="1132" y1="66" x2="1257" y2="66" stroke="#ff00ff" stroke-width="2" shape-rendering="crispEdges"/>
<text x="1270.6" y="84.2">Experimental</text>
<line x1="1132" y1="134" x2="1257" y2="134" stroke="#0000ff" stroke-width="2" shape-rendering="crispEdges"/>
<text x="1270.6" y="151.9">Theoretical</text>
<line x1="1132" y1="202" x2="1257" y2="202" stroke="#ff0000" stroke-width="2" shape-rendering="crispEdges"/>
<text x="1270.6" y="219.6">Experimental deuterated</text>
<line x1="1132" y1="269" x2="1257" y2="269" stroke="#000000" stroke-width="2" shape-rendering="crispEdges"/>
<text x="1270.6" y="287.3">Theoretical deuterated</text>
</g>
</svg>
</body></html>
